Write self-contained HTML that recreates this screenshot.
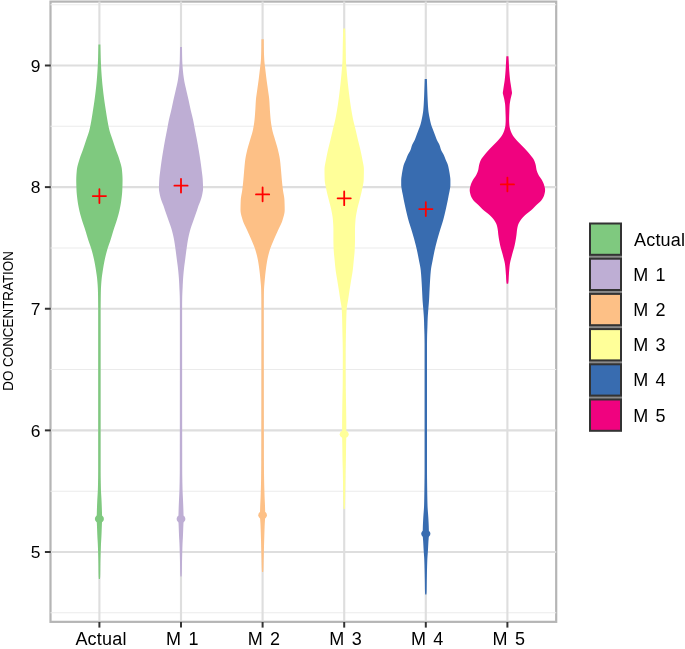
<!DOCTYPE html>
<html><head><meta charset="utf-8"><style>
html,body{margin:0;padding:0;background:#fff;}
svg{display:block;will-change:transform;}
.t{font-family:"Liberation Sans",sans-serif;font-size:18px;fill:#000;}
.a{letter-spacing:0.2px;}
.m{word-spacing:2.4px;}
.yt{font-family:"Liberation Sans",sans-serif;font-size:14px;fill:#000;}
</style></head><body>
<svg width="685" height="649" viewBox="0 0 685 649">
<rect width="685" height="649" fill="#fff"/>
<rect x="50.5" y="1.6" width="505.70" height="620.25" fill="none" stroke="#b5b5b5" stroke-width="2.2"/>
<line x1="50.5" x2="556.2" y1="612.81" y2="612.81" stroke="#ebebeb" stroke-width="1.07"/>
<line x1="50.5" x2="556.2" y1="491.19" y2="491.19" stroke="#ebebeb" stroke-width="1.07"/>
<line x1="50.5" x2="556.2" y1="369.56" y2="369.56" stroke="#ebebeb" stroke-width="1.07"/>
<line x1="50.5" x2="556.2" y1="247.94" y2="247.94" stroke="#ebebeb" stroke-width="1.07"/>
<line x1="50.5" x2="556.2" y1="126.31" y2="126.31" stroke="#ebebeb" stroke-width="1.07"/>
<line x1="50.5" x2="556.2" y1="4.69" y2="4.69" stroke="#ebebeb" stroke-width="1.07"/>
<line x1="50.5" x2="556.2" y1="552.00" y2="552.00" stroke="#dedede" stroke-width="2.13"/>
<line x1="50.5" x2="556.2" y1="430.38" y2="430.38" stroke="#dedede" stroke-width="2.13"/>
<line x1="50.5" x2="556.2" y1="308.75" y2="308.75" stroke="#dedede" stroke-width="2.13"/>
<line x1="50.5" x2="556.2" y1="187.12" y2="187.12" stroke="#dedede" stroke-width="2.13"/>
<line x1="50.5" x2="556.2" y1="65.50" y2="65.50" stroke="#dedede" stroke-width="2.13"/>
<line x1="99.4" x2="99.4" y1="1.6" y2="621.85" stroke="#dedede" stroke-width="2.13"/>
<line x1="181.0" x2="181.0" y1="1.6" y2="621.85" stroke="#dedede" stroke-width="2.13"/>
<line x1="262.6" x2="262.6" y1="1.6" y2="621.85" stroke="#dedede" stroke-width="2.13"/>
<line x1="344.2" x2="344.2" y1="1.6" y2="621.85" stroke="#dedede" stroke-width="2.13"/>
<line x1="425.8" x2="425.8" y1="1.6" y2="621.85" stroke="#dedede" stroke-width="2.13"/>
<line x1="507.4" x2="507.4" y1="1.6" y2="621.85" stroke="#dedede" stroke-width="2.13"/>
<path d="M100.40,44.6 100.42,45.6 100.43,46.6 100.45,47.6 100.47,48.6 100.49,49.6 100.51,50.6 100.54,51.6 100.56,52.6 100.59,53.6 100.62,54.6 100.65,55.6 100.68,56.6 100.71,57.6 100.75,58.6 100.78,59.6 100.82,60.6 100.86,61.6 100.90,62.6 100.94,63.6 100.98,64.6 101.03,65.6 101.08,66.6 101.13,67.6 101.18,68.6 101.24,69.6 101.31,70.6 101.37,71.6 101.44,72.6 101.51,73.6 101.58,74.6 101.65,75.6 101.73,76.6 101.81,77.6 101.89,78.6 101.97,79.6 102.05,80.6 102.14,81.6 102.23,82.6 102.32,83.6 102.42,84.6 102.52,85.6 102.63,86.6 102.74,87.6 102.85,88.6 102.96,89.6 103.07,90.6 103.18,91.6 103.30,92.6 103.42,93.6 103.54,94.6 103.67,95.6 103.80,96.6 103.93,97.6 104.06,98.6 104.20,99.6 104.33,100.6 104.47,101.6 104.62,102.6 104.77,103.6 104.92,104.6 105.07,105.6 105.22,106.6 105.38,107.6 105.53,108.6 105.69,109.6 105.84,110.6 106.00,111.6 106.15,112.6 106.30,113.6 106.46,114.6 106.62,115.6 106.78,116.6 106.94,117.6 107.11,118.6 107.28,119.6 107.46,120.6 107.63,121.6 107.81,122.6 108.00,123.6 108.19,124.6 108.38,125.6 108.58,126.6 108.79,127.6 109.02,128.6 109.25,129.6 109.50,130.6 109.78,131.6 110.08,132.6 110.40,133.6 110.74,134.6 111.08,135.6 111.43,136.6 111.78,137.6 112.13,138.6 112.47,139.6 112.80,140.6 113.13,141.6 113.46,142.6 113.79,143.6 114.12,144.6 114.45,145.6 114.79,146.6 115.13,147.6 115.47,148.6 115.81,149.6 116.16,150.6 116.53,151.6 116.91,152.6 117.29,153.6 117.67,154.6 118.05,155.6 118.41,156.6 118.76,157.6 119.08,158.6 119.38,159.6 119.69,160.6 119.99,161.6 120.30,162.6 120.60,163.6 120.88,164.6 121.14,165.6 121.38,166.6 121.60,167.6 121.77,168.6 121.91,169.6 122.01,170.6 122.10,171.6 122.19,172.6 122.27,173.6 122.34,174.6 122.41,175.6 122.46,176.6 122.50,177.6 122.53,178.6 122.55,179.6 122.55,180.6 122.54,181.6 122.53,182.6 122.51,183.6 122.49,184.6 122.46,185.6 122.43,186.6 122.39,187.6 122.35,188.6 122.32,189.6 122.27,190.6 122.22,191.6 122.15,192.6 122.06,193.6 121.97,194.6 121.87,195.6 121.76,196.6 121.64,197.6 121.52,198.6 121.40,199.6 121.27,200.6 121.14,201.6 120.99,202.6 120.83,203.6 120.66,204.6 120.48,205.6 120.29,206.6 120.09,207.6 119.89,208.6 119.68,209.6 119.47,210.6 119.24,211.6 118.99,212.6 118.74,213.6 118.47,214.6 118.19,215.6 117.90,216.6 117.61,217.6 117.32,218.6 117.02,219.6 116.72,220.6 116.40,221.6 116.07,222.6 115.73,223.6 115.39,224.6 115.04,225.6 114.70,226.6 114.36,227.6 114.03,228.6 113.71,229.6 113.40,230.6 113.09,231.6 112.79,232.6 112.49,233.6 112.20,234.6 111.90,235.6 111.60,236.6 111.30,237.6 110.99,238.6 110.68,239.6 110.36,240.6 110.02,241.6 109.68,242.6 109.33,243.6 108.97,244.6 108.62,245.6 108.28,246.6 107.94,247.6 107.62,248.6 107.32,249.6 107.03,250.6 106.75,251.6 106.48,252.6 106.21,253.6 105.95,254.6 105.70,255.6 105.46,256.6 105.23,257.6 105.00,258.6 104.78,259.6 104.58,260.6 104.37,261.6 104.18,262.6 103.99,263.6 103.80,264.6 103.62,265.6 103.45,266.6 103.28,267.6 103.12,268.6 102.96,269.6 102.81,270.6 102.65,271.6 102.50,272.6 102.35,273.6 102.20,274.6 102.06,275.6 101.92,276.6 101.80,277.6 101.69,278.6 101.59,279.6 101.50,280.6 101.41,281.6 101.33,282.6 101.26,283.6 101.18,284.6 101.12,285.6 101.06,286.6 101.00,287.6 100.95,288.6 100.91,289.6 100.88,290.6 100.85,291.6 100.82,292.6 100.80,293.6 100.78,294.6 100.76,295.6 100.74,296.6 100.72,297.6 100.71,298.6 100.69,299.6 100.68,300.6 100.67,301.6 100.65,302.6 100.64,303.6 100.63,304.6 100.62,305.6 100.61,306.6 100.61,307.6 100.60,308.6 100.60,309.6 100.60,310.6 100.60,311.6 100.60,312.6 100.60,313.6 100.60,314.6 100.60,315.6 100.60,316.6 100.60,317.6 100.60,318.6 100.60,319.6 100.60,320.6 100.60,321.6 100.60,322.6 100.60,323.6 100.60,324.6 100.60,325.6 100.60,326.6 100.60,327.6 100.60,328.6 100.60,329.6 100.60,330.6 100.60,331.6 100.60,332.6 100.60,333.6 100.60,334.6 100.60,335.6 100.60,336.6 100.60,337.6 100.60,338.6 100.60,339.6 100.60,340.6 100.60,341.6 100.60,342.6 100.60,343.6 100.60,344.6 100.60,345.6 100.60,346.6 100.60,347.6 100.60,348.6 100.60,349.6 100.60,350.6 100.60,351.6 100.60,352.6 100.60,353.6 100.60,354.6 100.60,355.6 100.60,356.6 100.60,357.6 100.60,358.6 100.60,359.6 100.60,360.6 100.60,361.6 100.60,362.6 100.60,363.6 100.60,364.6 100.60,365.6 100.60,366.6 100.60,367.6 100.60,368.6 100.60,369.6 100.60,370.6 100.60,371.6 100.60,372.6 100.60,373.6 100.60,374.6 100.60,375.6 100.60,376.6 100.60,377.6 100.60,378.6 100.60,379.6 100.60,380.6 100.60,381.6 100.60,382.6 100.60,383.6 100.60,384.6 100.60,385.6 100.60,386.6 100.60,387.6 100.60,388.6 100.60,389.6 100.60,390.6 100.60,391.6 100.60,392.6 100.60,393.6 100.60,394.6 100.60,395.6 100.60,396.6 100.60,397.6 100.60,398.6 100.60,399.6 100.60,400.6 100.60,401.6 100.60,402.6 100.60,403.6 100.60,404.6 100.60,405.6 100.60,406.6 100.60,407.6 100.60,408.6 100.60,409.6 100.60,410.6 100.60,411.6 100.60,412.6 100.60,413.6 100.60,414.6 100.60,415.6 100.60,416.6 100.60,417.6 100.60,418.6 100.60,419.6 100.60,420.6 100.60,421.6 100.60,422.6 100.60,423.6 100.60,424.6 100.60,425.6 100.60,426.6 100.60,427.6 100.60,428.6 100.60,429.6 100.60,430.6 100.60,431.6 100.60,432.6 100.60,433.6 100.60,434.6 100.60,435.6 100.60,436.6 100.60,437.6 100.60,438.6 100.60,439.6 100.60,440.6 100.60,441.6 100.60,442.6 100.60,443.6 100.60,444.6 100.60,445.6 100.60,446.6 100.60,447.6 100.60,448.6 100.60,449.6 100.60,450.6 100.60,451.6 100.60,452.6 100.60,453.6 100.60,454.6 100.60,455.6 100.60,456.6 100.60,457.6 100.60,458.6 100.60,459.6 100.60,460.6 100.60,461.6 100.60,462.6 100.60,463.6 100.60,464.6 100.60,465.6 100.60,466.6 100.60,467.6 100.60,468.6 100.60,469.6 100.60,470.6 100.60,471.6 100.61,472.6 100.62,473.6 100.62,474.6 100.64,475.6 100.65,476.6 100.66,477.6 100.68,478.6 100.70,479.6 100.72,480.6 100.74,481.6 100.76,482.6 100.78,483.6 100.80,484.6 100.83,485.6 100.85,486.6 100.88,487.6 100.90,488.6 100.93,489.6 100.97,490.6 101.02,491.6 101.08,492.6 101.13,493.6 101.19,494.6 101.25,495.6 101.32,496.6 101.37,497.6 101.43,498.6 101.48,499.6 101.53,500.6 101.57,501.6 101.62,502.6 101.66,503.6 101.70,504.6 101.74,505.6 101.78,506.6 101.82,507.6 101.86,508.6 101.89,509.6 101.92,510.6 101.95,511.6 101.98,512.6 102.01,513.6 102.04,514.6 102.07,515.6 102.08,516.6 102.10,517.6 102.10,518.6 102.09,519.6 102.07,520.6 102.04,521.6 102.00,522.6 101.95,523.6 101.90,524.6 101.86,525.6 101.82,526.6 101.78,527.6 101.74,528.6 101.70,529.6 101.67,530.6 101.63,531.6 101.59,532.6 101.55,533.6 101.51,534.6 101.46,535.6 101.42,536.6 101.37,537.6 101.31,538.6 101.25,539.6 101.19,540.6 101.13,541.6 101.07,542.6 101.02,543.6 100.97,544.6 100.93,545.6 100.89,546.6 100.85,547.6 100.81,548.6 100.78,549.6 100.74,550.6 100.70,551.6 100.67,552.6 100.64,553.6 100.61,554.6 100.57,555.6 100.55,556.6 100.52,557.6 100.49,558.6 100.47,559.6 100.44,560.6 100.42,561.6 100.40,562.6 100.38,563.6 100.37,564.6 100.35,565.6 100.34,566.6 100.33,567.6 100.32,568.6 100.31,569.6 100.30,570.6 100.29,571.6 100.27,572.6 100.26,573.6 100.24,574.6 100.21,575.6 100.18,576.6 100.11,577.6 100.03,578.6 100.00,579.0 98.80,579.0 98.77,578.6 98.69,577.6 98.62,576.6 98.59,575.6 98.56,574.6 98.54,573.6 98.53,572.6 98.51,571.6 98.50,570.6 98.49,569.6 98.48,568.6 98.47,567.6 98.46,566.6 98.45,565.6 98.43,564.6 98.42,563.6 98.40,562.6 98.38,561.6 98.36,560.6 98.33,559.6 98.31,558.6 98.28,557.6 98.25,556.6 98.23,555.6 98.19,554.6 98.16,553.6 98.13,552.6 98.10,551.6 98.06,550.6 98.02,549.6 97.99,548.6 97.95,547.6 97.91,546.6 97.87,545.6 97.83,544.6 97.78,543.6 97.73,542.6 97.67,541.6 97.61,540.6 97.55,539.6 97.49,538.6 97.43,537.6 97.38,536.6 97.34,535.6 97.29,534.6 97.25,533.6 97.21,532.6 97.17,531.6 97.13,530.6 97.10,529.6 97.06,528.6 97.02,527.6 96.98,526.6 96.94,525.6 96.90,524.6 96.85,523.6 96.80,522.6 96.76,521.6 96.73,520.6 96.71,519.6 96.70,518.6 96.70,517.6 96.72,516.6 96.73,515.6 96.76,514.6 96.79,513.6 96.82,512.6 96.85,511.6 96.88,510.6 96.91,509.6 96.94,508.6 96.98,507.6 97.02,506.6 97.06,505.6 97.10,504.6 97.14,503.6 97.18,502.6 97.23,501.6 97.27,500.6 97.32,499.6 97.37,498.6 97.43,497.6 97.48,496.6 97.55,495.6 97.61,494.6 97.67,493.6 97.72,492.6 97.78,491.6 97.83,490.6 97.87,489.6 97.90,488.6 97.92,487.6 97.95,486.6 97.97,485.6 98.00,484.6 98.02,483.6 98.04,482.6 98.06,481.6 98.08,480.6 98.10,479.6 98.12,478.6 98.14,477.6 98.15,476.6 98.16,475.6 98.18,474.6 98.18,473.6 98.19,472.6 98.20,471.6 98.20,470.6 98.20,469.6 98.20,468.6 98.20,467.6 98.20,466.6 98.20,465.6 98.20,464.6 98.20,463.6 98.20,462.6 98.20,461.6 98.20,460.6 98.20,459.6 98.20,458.6 98.20,457.6 98.20,456.6 98.20,455.6 98.20,454.6 98.20,453.6 98.20,452.6 98.20,451.6 98.20,450.6 98.20,449.6 98.20,448.6 98.20,447.6 98.20,446.6 98.20,445.6 98.20,444.6 98.20,443.6 98.20,442.6 98.20,441.6 98.20,440.6 98.20,439.6 98.20,438.6 98.20,437.6 98.20,436.6 98.20,435.6 98.20,434.6 98.20,433.6 98.20,432.6 98.20,431.6 98.20,430.6 98.20,429.6 98.20,428.6 98.20,427.6 98.20,426.6 98.20,425.6 98.20,424.6 98.20,423.6 98.20,422.6 98.20,421.6 98.20,420.6 98.20,419.6 98.20,418.6 98.20,417.6 98.20,416.6 98.20,415.6 98.20,414.6 98.20,413.6 98.20,412.6 98.20,411.6 98.20,410.6 98.20,409.6 98.20,408.6 98.20,407.6 98.20,406.6 98.20,405.6 98.20,404.6 98.20,403.6 98.20,402.6 98.20,401.6 98.20,400.6 98.20,399.6 98.20,398.6 98.20,397.6 98.20,396.6 98.20,395.6 98.20,394.6 98.20,393.6 98.20,392.6 98.20,391.6 98.20,390.6 98.20,389.6 98.20,388.6 98.20,387.6 98.20,386.6 98.20,385.6 98.20,384.6 98.20,383.6 98.20,382.6 98.20,381.6 98.20,380.6 98.20,379.6 98.20,378.6 98.20,377.6 98.20,376.6 98.20,375.6 98.20,374.6 98.20,373.6 98.20,372.6 98.20,371.6 98.20,370.6 98.20,369.6 98.20,368.6 98.20,367.6 98.20,366.6 98.20,365.6 98.20,364.6 98.20,363.6 98.20,362.6 98.20,361.6 98.20,360.6 98.20,359.6 98.20,358.6 98.20,357.6 98.20,356.6 98.20,355.6 98.20,354.6 98.20,353.6 98.20,352.6 98.20,351.6 98.20,350.6 98.20,349.6 98.20,348.6 98.20,347.6 98.20,346.6 98.20,345.6 98.20,344.6 98.20,343.6 98.20,342.6 98.20,341.6 98.20,340.6 98.20,339.6 98.20,338.6 98.20,337.6 98.20,336.6 98.20,335.6 98.20,334.6 98.20,333.6 98.20,332.6 98.20,331.6 98.20,330.6 98.20,329.6 98.20,328.6 98.20,327.6 98.20,326.6 98.20,325.6 98.20,324.6 98.20,323.6 98.20,322.6 98.20,321.6 98.20,320.6 98.20,319.6 98.20,318.6 98.20,317.6 98.20,316.6 98.20,315.6 98.20,314.6 98.20,313.6 98.20,312.6 98.20,311.6 98.20,310.6 98.20,309.6 98.20,308.6 98.19,307.6 98.19,306.6 98.18,305.6 98.17,304.6 98.16,303.6 98.15,302.6 98.13,301.6 98.12,300.6 98.11,299.6 98.09,298.6 98.08,297.6 98.06,296.6 98.04,295.6 98.02,294.6 98.00,293.6 97.98,292.6 97.95,291.6 97.92,290.6 97.89,289.6 97.85,288.6 97.80,287.6 97.74,286.6 97.68,285.6 97.62,284.6 97.54,283.6 97.47,282.6 97.39,281.6 97.30,280.6 97.21,279.6 97.11,278.6 97.00,277.6 96.88,276.6 96.74,275.6 96.60,274.6 96.45,273.6 96.30,272.6 96.15,271.6 95.99,270.6 95.84,269.6 95.68,268.6 95.52,267.6 95.35,266.6 95.18,265.6 95.00,264.6 94.81,263.6 94.62,262.6 94.43,261.6 94.22,260.6 94.02,259.6 93.80,258.6 93.57,257.6 93.34,256.6 93.10,255.6 92.85,254.6 92.59,253.6 92.32,252.6 92.05,251.6 91.77,250.6 91.48,249.6 91.18,248.6 90.86,247.6 90.52,246.6 90.18,245.6 89.83,244.6 89.47,243.6 89.12,242.6 88.78,241.6 88.44,240.6 88.12,239.6 87.81,238.6 87.50,237.6 87.20,236.6 86.90,235.6 86.60,234.6 86.31,233.6 86.01,232.6 85.71,231.6 85.40,230.6 85.09,229.6 84.77,228.6 84.44,227.6 84.10,226.6 83.76,225.6 83.41,224.6 83.07,223.6 82.73,222.6 82.40,221.6 82.08,220.6 81.78,219.6 81.48,218.6 81.19,217.6 80.90,216.6 80.61,215.6 80.33,214.6 80.06,213.6 79.81,212.6 79.56,211.6 79.33,210.6 79.12,209.6 78.91,208.6 78.71,207.6 78.51,206.6 78.32,205.6 78.14,204.6 77.97,203.6 77.81,202.6 77.66,201.6 77.53,200.6 77.40,199.6 77.28,198.6 77.16,197.6 77.04,196.6 76.93,195.6 76.83,194.6 76.74,193.6 76.65,192.6 76.58,191.6 76.53,190.6 76.48,189.6 76.45,188.6 76.41,187.6 76.37,186.6 76.34,185.6 76.31,184.6 76.29,183.6 76.27,182.6 76.26,181.6 76.25,180.6 76.25,179.6 76.27,178.6 76.30,177.6 76.34,176.6 76.39,175.6 76.46,174.6 76.53,173.6 76.61,172.6 76.70,171.6 76.79,170.6 76.89,169.6 77.03,168.6 77.20,167.6 77.42,166.6 77.66,165.6 77.92,164.6 78.20,163.6 78.50,162.6 78.81,161.6 79.11,160.6 79.42,159.6 79.72,158.6 80.04,157.6 80.39,156.6 80.75,155.6 81.13,154.6 81.51,153.6 81.89,152.6 82.27,151.6 82.64,150.6 82.99,149.6 83.33,148.6 83.67,147.6 84.01,146.6 84.35,145.6 84.68,144.6 85.01,143.6 85.34,142.6 85.67,141.6 86.00,140.6 86.33,139.6 86.67,138.6 87.02,137.6 87.37,136.6 87.72,135.6 88.06,134.6 88.40,133.6 88.72,132.6 89.02,131.6 89.30,130.6 89.55,129.6 89.78,128.6 90.01,127.6 90.22,126.6 90.42,125.6 90.61,124.6 90.80,123.6 90.99,122.6 91.17,121.6 91.34,120.6 91.52,119.6 91.69,118.6 91.86,117.6 92.02,116.6 92.18,115.6 92.34,114.6 92.50,113.6 92.65,112.6 92.80,111.6 92.96,110.6 93.11,109.6 93.27,108.6 93.42,107.6 93.58,106.6 93.73,105.6 93.88,104.6 94.03,103.6 94.18,102.6 94.33,101.6 94.47,100.6 94.60,99.6 94.74,98.6 94.87,97.6 95.00,96.6 95.13,95.6 95.26,94.6 95.38,93.6 95.50,92.6 95.62,91.6 95.73,90.6 95.84,89.6 95.95,88.6 96.06,87.6 96.17,86.6 96.28,85.6 96.38,84.6 96.48,83.6 96.57,82.6 96.66,81.6 96.75,80.6 96.83,79.6 96.91,78.6 96.99,77.6 97.07,76.6 97.15,75.6 97.22,74.6 97.29,73.6 97.36,72.6 97.43,71.6 97.49,70.6 97.56,69.6 97.62,68.6 97.67,67.6 97.72,66.6 97.77,65.6 97.82,64.6 97.86,63.6 97.90,62.6 97.94,61.6 97.98,60.6 98.02,59.6 98.05,58.6 98.09,57.6 98.12,56.6 98.15,55.6 98.18,54.6 98.21,53.6 98.24,52.6 98.26,51.6 98.29,50.6 98.31,49.6 98.33,48.6 98.35,47.6 98.37,46.6 98.38,45.6 98.40,44.6Z" fill="#7fc97f"/>
<path d="M182.00,47.0 182.01,48.0 182.02,49.0 182.03,50.0 182.04,51.0 182.05,52.0 182.06,53.0 182.08,54.0 182.09,55.0 182.11,56.0 182.13,57.0 182.15,58.0 182.17,59.0 182.20,60.0 182.23,61.0 182.28,62.0 182.33,63.0 182.39,64.0 182.45,65.0 182.53,66.0 182.60,67.0 182.68,68.0 182.77,69.0 182.85,70.0 182.94,71.0 183.04,72.0 183.15,73.0 183.26,74.0 183.38,75.0 183.51,76.0 183.65,77.0 183.80,78.0 183.94,79.0 184.10,80.0 184.27,81.0 184.45,82.0 184.66,83.0 184.87,84.0 185.09,85.0 185.32,86.0 185.56,87.0 185.79,88.0 186.02,89.0 186.25,90.0 186.47,91.0 186.70,92.0 186.93,93.0 187.17,94.0 187.40,95.0 187.63,96.0 187.87,97.0 188.10,98.0 188.33,99.0 188.55,100.0 188.77,101.0 188.99,102.0 189.20,103.0 189.41,104.0 189.62,105.0 189.83,106.0 190.04,107.0 190.26,108.0 190.48,109.0 190.70,110.0 190.93,111.0 191.17,112.0 191.42,113.0 191.67,114.0 191.92,115.0 192.17,116.0 192.41,117.0 192.65,118.0 192.88,119.0 193.10,120.0 193.31,121.0 193.51,122.0 193.70,123.0 193.88,124.0 194.07,125.0 194.25,126.0 194.43,127.0 194.62,128.0 194.80,129.0 195.00,130.0 195.19,131.0 195.39,132.0 195.59,133.0 195.79,134.0 195.98,135.0 196.18,136.0 196.38,137.0 196.57,138.0 196.76,139.0 196.95,140.0 197.13,141.0 197.31,142.0 197.49,143.0 197.67,144.0 197.85,145.0 198.02,146.0 198.19,147.0 198.36,148.0 198.53,149.0 198.70,150.0 198.87,151.0 199.03,152.0 199.20,153.0 199.36,154.0 199.53,155.0 199.69,156.0 199.84,157.0 200.00,158.0 200.15,159.0 200.30,160.0 200.45,161.0 200.59,162.0 200.73,163.0 200.87,164.0 201.01,165.0 201.14,166.0 201.27,167.0 201.40,168.0 201.53,169.0 201.65,170.0 201.77,171.0 201.90,172.0 202.03,173.0 202.16,174.0 202.29,175.0 202.41,176.0 202.51,177.0 202.61,178.0 202.69,179.0 202.75,180.0 202.80,181.0 202.85,182.0 202.90,183.0 202.94,184.0 202.97,185.0 203.01,186.0 203.03,187.0 203.04,188.0 203.05,189.0 203.00,190.0 202.86,191.0 202.68,192.0 202.50,193.0 202.32,194.0 202.11,195.0 201.88,196.0 201.63,197.0 201.36,198.0 201.05,199.0 200.72,200.0 200.36,201.0 200.00,202.0 199.61,203.0 199.20,204.0 198.78,205.0 198.40,206.0 198.06,207.0 197.74,208.0 197.42,209.0 197.10,210.0 196.76,211.0 196.41,212.0 196.06,213.0 195.70,214.0 195.35,215.0 195.00,216.0 194.65,217.0 194.30,218.0 193.95,219.0 193.60,220.0 193.25,221.0 192.89,222.0 192.53,223.0 192.17,224.0 191.81,225.0 191.46,226.0 191.12,227.0 190.79,228.0 190.49,229.0 190.20,230.0 189.93,231.0 189.67,232.0 189.41,233.0 189.17,234.0 188.93,235.0 188.71,236.0 188.49,237.0 188.28,238.0 188.09,239.0 187.90,240.0 187.72,241.0 187.56,242.0 187.40,243.0 187.24,244.0 187.10,245.0 186.95,246.0 186.81,247.0 186.68,248.0 186.54,249.0 186.40,250.0 186.26,251.0 186.13,252.0 186.00,253.0 185.87,254.0 185.74,255.0 185.61,256.0 185.48,257.0 185.36,258.0 185.23,259.0 185.10,260.0 184.97,261.0 184.84,262.0 184.70,263.0 184.57,264.0 184.43,265.0 184.30,266.0 184.18,267.0 184.06,268.0 183.95,269.0 183.85,270.0 183.74,271.0 183.64,272.0 183.55,273.0 183.46,274.0 183.37,275.0 183.29,276.0 183.21,277.0 183.13,278.0 183.07,279.0 183.00,280.0 182.94,281.0 182.89,282.0 182.84,283.0 182.78,284.0 182.73,285.0 182.69,286.0 182.64,287.0 182.59,288.0 182.54,289.0 182.49,290.0 182.44,291.0 182.39,292.0 182.34,293.0 182.29,294.0 182.26,295.0 182.22,296.0 182.20,297.0 182.18,298.0 182.16,299.0 182.15,300.0 182.13,301.0 182.12,302.0 182.11,303.0 182.10,304.0 182.10,305.0 182.10,306.0 182.10,307.0 182.10,308.0 182.10,309.0 182.10,310.0 182.10,311.0 182.10,312.0 182.10,313.0 182.10,314.0 182.10,315.0 182.10,316.0 182.10,317.0 182.10,318.0 182.10,319.0 182.10,320.0 182.10,321.0 182.10,322.0 182.10,323.0 182.10,324.0 182.10,325.0 182.10,326.0 182.10,327.0 182.10,328.0 182.10,329.0 182.10,330.0 182.10,331.0 182.10,332.0 182.10,333.0 182.10,334.0 182.10,335.0 182.10,336.0 182.10,337.0 182.10,338.0 182.10,339.0 182.10,340.0 182.10,341.0 182.10,342.0 182.10,343.0 182.10,344.0 182.10,345.0 182.10,346.0 182.10,347.0 182.10,348.0 182.10,349.0 182.10,350.0 182.10,351.0 182.10,352.0 182.11,353.0 182.11,354.0 182.11,355.0 182.11,356.0 182.11,357.0 182.11,358.0 182.11,359.0 182.11,360.0 182.11,361.0 182.11,362.0 182.11,363.0 182.11,364.0 182.11,365.0 182.11,366.0 182.11,367.0 182.11,368.0 182.11,369.0 182.11,370.0 182.11,371.0 182.11,372.0 182.11,373.0 182.11,374.0 182.11,375.0 182.11,376.0 182.11,377.0 182.11,378.0 182.11,379.0 182.11,380.0 182.11,381.0 182.12,382.0 182.12,383.0 182.12,384.0 182.12,385.0 182.12,386.0 182.12,387.0 182.12,388.0 182.12,389.0 182.12,390.0 182.12,391.0 182.12,392.0 182.12,393.0 182.12,394.0 182.12,395.0 182.12,396.0 182.12,397.0 182.12,398.0 182.12,399.0 182.13,400.0 182.13,401.0 182.13,402.0 182.13,403.0 182.13,404.0 182.13,405.0 182.13,406.0 182.13,407.0 182.13,408.0 182.13,409.0 182.13,410.0 182.13,411.0 182.13,412.0 182.13,413.0 182.14,414.0 182.14,415.0 182.14,416.0 182.14,417.0 182.14,418.0 182.14,419.0 182.14,420.0 182.14,421.0 182.14,422.0 182.14,423.0 182.14,424.0 182.14,425.0 182.15,426.0 182.15,427.0 182.15,428.0 182.15,429.0 182.15,430.0 182.15,431.0 182.15,432.0 182.15,433.0 182.15,434.0 182.15,435.0 182.16,436.0 182.16,437.0 182.16,438.0 182.16,439.0 182.16,440.0 182.16,441.0 182.16,442.0 182.16,443.0 182.16,444.0 182.17,445.0 182.17,446.0 182.17,447.0 182.17,448.0 182.17,449.0 182.17,450.0 182.17,451.0 182.17,452.0 182.18,453.0 182.18,454.0 182.18,455.0 182.18,456.0 182.18,457.0 182.18,458.0 182.18,459.0 182.19,460.0 182.19,461.0 182.19,462.0 182.19,463.0 182.19,464.0 182.19,465.0 182.19,466.0 182.20,467.0 182.20,468.0 182.20,469.0 182.20,470.0 182.20,471.0 182.21,472.0 182.21,473.0 182.22,474.0 182.23,475.0 182.25,476.0 182.26,477.0 182.28,478.0 182.29,479.0 182.31,480.0 182.33,481.0 182.35,482.0 182.37,483.0 182.39,484.0 182.42,485.0 182.44,486.0 182.46,487.0 182.49,488.0 182.51,489.0 182.54,490.0 182.58,491.0 182.62,492.0 182.67,493.0 182.71,494.0 182.76,495.0 182.81,496.0 182.86,497.0 182.91,498.0 182.96,499.0 183.00,500.0 183.04,501.0 183.09,502.0 183.13,503.0 183.17,504.0 183.22,505.0 183.26,506.0 183.30,507.0 183.34,508.0 183.37,509.0 183.40,510.0 183.43,511.0 183.46,512.0 183.49,513.0 183.52,514.0 183.54,515.0 183.57,516.0 183.58,517.0 183.60,518.0 183.60,519.0 183.59,520.0 183.57,521.0 183.53,522.0 183.49,523.0 183.44,524.0 183.39,525.0 183.34,526.0 183.30,527.0 183.26,528.0 183.22,529.0 183.19,530.0 183.15,531.0 183.11,532.0 183.07,533.0 183.03,534.0 182.99,535.0 182.95,536.0 182.90,537.0 182.85,538.0 182.79,539.0 182.72,540.0 182.66,541.0 182.60,542.0 182.54,543.0 182.50,544.0 182.46,545.0 182.43,546.0 182.39,547.0 182.36,548.0 182.33,549.0 182.30,550.0 182.27,551.0 182.24,552.0 182.22,553.0 182.19,554.0 182.17,555.0 182.14,556.0 182.12,557.0 182.10,558.0 182.08,559.0 182.05,560.0 182.03,561.0 182.01,562.0 181.99,563.0 181.97,564.0 181.96,565.0 181.95,566.0 181.93,567.0 181.92,568.0 181.91,569.0 181.89,570.0 181.88,571.0 181.86,572.0 181.83,573.0 181.80,574.0 181.74,575.0 181.65,576.0 181.60,576.5 180.40,576.5 180.35,576.0 180.26,575.0 180.20,574.0 180.17,573.0 180.14,572.0 180.12,571.0 180.11,570.0 180.09,569.0 180.08,568.0 180.07,567.0 180.05,566.0 180.04,565.0 180.03,564.0 180.01,563.0 179.99,562.0 179.97,561.0 179.95,560.0 179.92,559.0 179.90,558.0 179.88,557.0 179.86,556.0 179.83,555.0 179.81,554.0 179.78,553.0 179.76,552.0 179.73,551.0 179.70,550.0 179.67,549.0 179.64,548.0 179.61,547.0 179.57,546.0 179.54,545.0 179.50,544.0 179.46,543.0 179.40,542.0 179.34,541.0 179.28,540.0 179.21,539.0 179.15,538.0 179.10,537.0 179.05,536.0 179.01,535.0 178.97,534.0 178.93,533.0 178.89,532.0 178.85,531.0 178.81,530.0 178.78,529.0 178.74,528.0 178.70,527.0 178.66,526.0 178.61,525.0 178.56,524.0 178.51,523.0 178.47,522.0 178.43,521.0 178.41,520.0 178.40,519.0 178.40,518.0 178.42,517.0 178.43,516.0 178.46,515.0 178.48,514.0 178.51,513.0 178.54,512.0 178.57,511.0 178.60,510.0 178.63,509.0 178.66,508.0 178.70,507.0 178.74,506.0 178.78,505.0 178.83,504.0 178.87,503.0 178.91,502.0 178.96,501.0 179.00,500.0 179.04,499.0 179.09,498.0 179.14,497.0 179.19,496.0 179.24,495.0 179.29,494.0 179.33,493.0 179.38,492.0 179.42,491.0 179.46,490.0 179.49,489.0 179.51,488.0 179.54,487.0 179.56,486.0 179.58,485.0 179.61,484.0 179.63,483.0 179.65,482.0 179.67,481.0 179.69,480.0 179.71,479.0 179.72,478.0 179.74,477.0 179.75,476.0 179.77,475.0 179.78,474.0 179.79,473.0 179.79,472.0 179.80,471.0 179.80,470.0 179.80,469.0 179.80,468.0 179.80,467.0 179.81,466.0 179.81,465.0 179.81,464.0 179.81,463.0 179.81,462.0 179.81,461.0 179.81,460.0 179.82,459.0 179.82,458.0 179.82,457.0 179.82,456.0 179.82,455.0 179.82,454.0 179.82,453.0 179.83,452.0 179.83,451.0 179.83,450.0 179.83,449.0 179.83,448.0 179.83,447.0 179.83,446.0 179.83,445.0 179.84,444.0 179.84,443.0 179.84,442.0 179.84,441.0 179.84,440.0 179.84,439.0 179.84,438.0 179.84,437.0 179.84,436.0 179.85,435.0 179.85,434.0 179.85,433.0 179.85,432.0 179.85,431.0 179.85,430.0 179.85,429.0 179.85,428.0 179.85,427.0 179.85,426.0 179.86,425.0 179.86,424.0 179.86,423.0 179.86,422.0 179.86,421.0 179.86,420.0 179.86,419.0 179.86,418.0 179.86,417.0 179.86,416.0 179.86,415.0 179.86,414.0 179.87,413.0 179.87,412.0 179.87,411.0 179.87,410.0 179.87,409.0 179.87,408.0 179.87,407.0 179.87,406.0 179.87,405.0 179.87,404.0 179.87,403.0 179.87,402.0 179.87,401.0 179.87,400.0 179.88,399.0 179.88,398.0 179.88,397.0 179.88,396.0 179.88,395.0 179.88,394.0 179.88,393.0 179.88,392.0 179.88,391.0 179.88,390.0 179.88,389.0 179.88,388.0 179.88,387.0 179.88,386.0 179.88,385.0 179.88,384.0 179.88,383.0 179.88,382.0 179.89,381.0 179.89,380.0 179.89,379.0 179.89,378.0 179.89,377.0 179.89,376.0 179.89,375.0 179.89,374.0 179.89,373.0 179.89,372.0 179.89,371.0 179.89,370.0 179.89,369.0 179.89,368.0 179.89,367.0 179.89,366.0 179.89,365.0 179.89,364.0 179.89,363.0 179.89,362.0 179.89,361.0 179.89,360.0 179.89,359.0 179.89,358.0 179.89,357.0 179.89,356.0 179.89,355.0 179.89,354.0 179.89,353.0 179.90,352.0 179.90,351.0 179.90,350.0 179.90,349.0 179.90,348.0 179.90,347.0 179.90,346.0 179.90,345.0 179.90,344.0 179.90,343.0 179.90,342.0 179.90,341.0 179.90,340.0 179.90,339.0 179.90,338.0 179.90,337.0 179.90,336.0 179.90,335.0 179.90,334.0 179.90,333.0 179.90,332.0 179.90,331.0 179.90,330.0 179.90,329.0 179.90,328.0 179.90,327.0 179.90,326.0 179.90,325.0 179.90,324.0 179.90,323.0 179.90,322.0 179.90,321.0 179.90,320.0 179.90,319.0 179.90,318.0 179.90,317.0 179.90,316.0 179.90,315.0 179.90,314.0 179.90,313.0 179.90,312.0 179.90,311.0 179.90,310.0 179.90,309.0 179.90,308.0 179.90,307.0 179.90,306.0 179.90,305.0 179.90,304.0 179.89,303.0 179.88,302.0 179.87,301.0 179.85,300.0 179.84,299.0 179.82,298.0 179.80,297.0 179.78,296.0 179.74,295.0 179.71,294.0 179.66,293.0 179.61,292.0 179.56,291.0 179.51,290.0 179.46,289.0 179.41,288.0 179.36,287.0 179.31,286.0 179.27,285.0 179.22,284.0 179.16,283.0 179.11,282.0 179.06,281.0 179.00,280.0 178.93,279.0 178.87,278.0 178.79,277.0 178.71,276.0 178.63,275.0 178.54,274.0 178.45,273.0 178.36,272.0 178.26,271.0 178.15,270.0 178.05,269.0 177.94,268.0 177.82,267.0 177.70,266.0 177.57,265.0 177.43,264.0 177.30,263.0 177.16,262.0 177.03,261.0 176.90,260.0 176.77,259.0 176.64,258.0 176.52,257.0 176.39,256.0 176.26,255.0 176.13,254.0 176.00,253.0 175.87,252.0 175.74,251.0 175.60,250.0 175.46,249.0 175.32,248.0 175.19,247.0 175.05,246.0 174.90,245.0 174.76,244.0 174.60,243.0 174.44,242.0 174.28,241.0 174.10,240.0 173.91,239.0 173.72,238.0 173.51,237.0 173.29,236.0 173.07,235.0 172.83,234.0 172.59,233.0 172.33,232.0 172.07,231.0 171.80,230.0 171.51,229.0 171.21,228.0 170.88,227.0 170.54,226.0 170.19,225.0 169.83,224.0 169.47,223.0 169.11,222.0 168.75,221.0 168.40,220.0 168.05,219.0 167.70,218.0 167.35,217.0 167.00,216.0 166.65,215.0 166.30,214.0 165.94,213.0 165.59,212.0 165.24,211.0 164.90,210.0 164.58,209.0 164.26,208.0 163.94,207.0 163.60,206.0 163.22,205.0 162.80,204.0 162.39,203.0 162.00,202.0 161.64,201.0 161.28,200.0 160.95,199.0 160.64,198.0 160.37,197.0 160.12,196.0 159.89,195.0 159.68,194.0 159.50,193.0 159.32,192.0 159.14,191.0 159.00,190.0 158.95,189.0 158.96,188.0 158.97,187.0 158.99,186.0 159.03,185.0 159.06,184.0 159.10,183.0 159.15,182.0 159.20,181.0 159.25,180.0 159.31,179.0 159.39,178.0 159.49,177.0 159.59,176.0 159.71,175.0 159.84,174.0 159.97,173.0 160.10,172.0 160.23,171.0 160.35,170.0 160.47,169.0 160.60,168.0 160.73,167.0 160.86,166.0 160.99,165.0 161.13,164.0 161.27,163.0 161.41,162.0 161.55,161.0 161.70,160.0 161.85,159.0 162.00,158.0 162.16,157.0 162.31,156.0 162.47,155.0 162.64,154.0 162.80,153.0 162.97,152.0 163.13,151.0 163.30,150.0 163.47,149.0 163.64,148.0 163.81,147.0 163.98,146.0 164.15,145.0 164.33,144.0 164.51,143.0 164.69,142.0 164.87,141.0 165.05,140.0 165.24,139.0 165.43,138.0 165.62,137.0 165.82,136.0 166.02,135.0 166.21,134.0 166.41,133.0 166.61,132.0 166.81,131.0 167.00,130.0 167.20,129.0 167.38,128.0 167.57,127.0 167.75,126.0 167.93,125.0 168.12,124.0 168.30,123.0 168.49,122.0 168.69,121.0 168.90,120.0 169.12,119.0 169.35,118.0 169.59,117.0 169.83,116.0 170.08,115.0 170.33,114.0 170.58,113.0 170.83,112.0 171.07,111.0 171.30,110.0 171.52,109.0 171.74,108.0 171.96,107.0 172.17,106.0 172.38,105.0 172.59,104.0 172.80,103.0 173.01,102.0 173.23,101.0 173.45,100.0 173.67,99.0 173.90,98.0 174.13,97.0 174.37,96.0 174.60,95.0 174.83,94.0 175.07,93.0 175.30,92.0 175.53,91.0 175.75,90.0 175.98,89.0 176.21,88.0 176.44,87.0 176.68,86.0 176.91,85.0 177.13,84.0 177.34,83.0 177.55,82.0 177.73,81.0 177.90,80.0 178.06,79.0 178.20,78.0 178.35,77.0 178.49,76.0 178.62,75.0 178.74,74.0 178.85,73.0 178.96,72.0 179.06,71.0 179.15,70.0 179.23,69.0 179.32,68.0 179.40,67.0 179.47,66.0 179.55,65.0 179.61,64.0 179.67,63.0 179.72,62.0 179.77,61.0 179.80,60.0 179.83,59.0 179.85,58.0 179.87,57.0 179.89,56.0 179.91,55.0 179.92,54.0 179.94,53.0 179.95,52.0 179.96,51.0 179.97,50.0 179.98,49.0 179.99,48.0 180.00,47.0Z" fill="#beaed4"/>
<path d="M263.80,39.2 263.80,40.2 263.80,41.2 263.81,42.2 263.82,43.2 263.83,44.2 263.84,45.2 263.85,46.2 263.86,47.2 263.87,48.2 263.89,49.2 263.90,50.2 263.92,51.2 263.95,52.2 263.98,53.2 264.01,54.2 264.05,55.2 264.10,56.2 264.15,57.2 264.20,58.2 264.25,59.2 264.31,60.2 264.38,61.2 264.47,62.2 264.57,63.2 264.68,64.2 264.80,65.2 264.93,66.2 265.06,67.2 265.18,68.2 265.31,69.2 265.42,70.2 265.54,71.2 265.65,72.2 265.77,73.2 265.89,74.2 266.01,75.2 266.13,76.2 266.25,77.2 266.37,78.2 266.50,79.2 266.63,80.2 266.76,81.2 266.90,82.2 267.04,83.2 267.18,84.2 267.32,85.2 267.47,86.2 267.61,87.2 267.75,88.2 267.89,89.2 268.03,90.2 268.17,91.2 268.31,92.2 268.46,93.2 268.60,94.2 268.74,95.2 268.88,96.2 269.01,97.2 269.13,98.2 269.23,99.2 269.32,100.2 269.39,101.2 269.46,102.2 269.52,103.2 269.57,104.2 269.63,105.2 269.68,106.2 269.73,107.2 269.79,108.2 269.85,109.2 269.91,110.2 269.98,111.2 270.05,112.2 270.12,113.2 270.19,114.2 270.27,115.2 270.35,116.2 270.43,117.2 270.52,118.2 270.62,119.2 270.72,120.2 270.84,121.2 270.96,122.2 271.10,123.2 271.25,124.2 271.41,125.2 271.58,126.2 271.76,127.2 271.94,128.2 272.14,129.2 272.34,130.2 272.57,131.2 272.82,132.2 273.09,133.2 273.38,134.2 273.69,135.2 274.00,136.2 274.31,137.2 274.62,138.2 274.92,139.2 275.21,140.2 275.50,141.2 275.80,142.2 276.10,143.2 276.40,144.2 276.70,145.2 276.99,146.2 277.27,147.2 277.55,148.2 277.81,149.2 278.05,150.2 278.28,151.2 278.51,152.2 278.74,153.2 278.96,154.2 279.17,155.2 279.37,156.2 279.56,157.2 279.73,158.2 279.89,159.2 280.03,160.2 280.15,161.2 280.27,162.2 280.37,163.2 280.48,164.2 280.57,165.2 280.66,166.2 280.75,167.2 280.84,168.2 280.93,169.2 281.02,170.2 281.11,171.2 281.19,172.2 281.27,173.2 281.36,174.2 281.44,175.2 281.52,176.2 281.60,177.2 281.69,178.2 281.78,179.2 281.87,180.2 281.97,181.2 282.07,182.2 282.17,183.2 282.27,184.2 282.38,185.2 282.49,186.2 282.61,187.2 282.73,188.2 282.85,189.2 282.98,190.2 283.12,191.2 283.29,192.2 283.47,193.2 283.66,194.2 283.84,195.2 284.02,196.2 284.17,197.2 284.30,198.2 284.40,199.2 284.46,200.2 284.50,201.2 284.54,202.2 284.57,203.2 284.61,204.2 284.63,205.2 284.66,206.2 284.68,207.2 284.69,208.2 284.70,209.2 284.70,210.2 284.65,211.2 284.54,212.2 284.38,213.2 284.18,214.2 283.94,215.2 283.67,216.2 283.38,217.2 283.08,218.2 282.78,219.2 282.49,220.2 282.16,221.2 281.79,222.2 281.37,223.2 280.92,224.2 280.45,225.2 279.96,226.2 279.47,227.2 278.99,228.2 278.51,229.2 278.06,230.2 277.61,231.2 277.16,232.2 276.71,233.2 276.25,234.2 275.80,235.2 275.35,236.2 274.90,237.2 274.47,238.2 274.04,239.2 273.62,240.2 273.20,241.2 272.78,242.2 272.35,243.2 271.94,244.2 271.53,245.2 271.13,246.2 270.75,247.2 270.39,248.2 270.05,249.2 269.74,250.2 269.44,251.2 269.15,252.2 268.88,253.2 268.61,254.2 268.35,255.2 268.11,256.2 267.88,257.2 267.66,258.2 267.45,259.2 267.26,260.2 267.08,261.2 266.91,262.2 266.75,263.2 266.59,264.2 266.44,265.2 266.30,266.2 266.16,267.2 266.03,268.2 265.90,269.2 265.78,270.2 265.65,271.2 265.54,272.2 265.42,273.2 265.31,274.2 265.21,275.2 265.11,276.2 265.01,277.2 264.91,278.2 264.82,279.2 264.73,280.2 264.64,281.2 264.55,282.2 264.46,283.2 264.37,284.2 264.29,285.2 264.21,286.2 264.14,287.2 264.08,288.2 264.03,289.2 263.99,290.2 263.96,291.2 263.94,292.2 263.91,293.2 263.89,294.2 263.87,295.2 263.85,296.2 263.83,297.2 263.82,298.2 263.81,299.2 263.80,300.2 263.79,301.2 263.78,302.2 263.78,303.2 263.77,304.2 263.76,305.2 263.76,306.2 263.76,307.2 263.75,308.2 263.75,309.2 263.75,310.2 263.75,311.2 263.75,312.2 263.75,313.2 263.75,314.2 263.75,315.2 263.75,316.2 263.75,317.2 263.75,318.2 263.75,319.2 263.75,320.2 263.75,321.2 263.75,322.2 263.75,323.2 263.75,324.2 263.75,325.2 263.75,326.2 263.75,327.2 263.75,328.2 263.75,329.2 263.75,330.2 263.75,331.2 263.75,332.2 263.75,333.2 263.75,334.2 263.75,335.2 263.75,336.2 263.75,337.2 263.75,338.2 263.75,339.2 263.75,340.2 263.75,341.2 263.76,342.2 263.76,343.2 263.76,344.2 263.76,345.2 263.76,346.2 263.76,347.2 263.76,348.2 263.76,349.2 263.76,350.2 263.76,351.2 263.76,352.2 263.76,353.2 263.76,354.2 263.76,355.2 263.76,356.2 263.76,357.2 263.76,358.2 263.76,359.2 263.76,360.2 263.76,361.2 263.76,362.2 263.76,363.2 263.77,364.2 263.77,365.2 263.77,366.2 263.77,367.2 263.77,368.2 263.77,369.2 263.77,370.2 263.77,371.2 263.77,372.2 263.77,373.2 263.77,374.2 263.77,375.2 263.77,376.2 263.77,377.2 263.78,378.2 263.78,379.2 263.78,380.2 263.78,381.2 263.78,382.2 263.78,383.2 263.78,384.2 263.78,385.2 263.78,386.2 263.78,387.2 263.78,388.2 263.79,389.2 263.79,390.2 263.79,391.2 263.79,392.2 263.79,393.2 263.79,394.2 263.79,395.2 263.79,396.2 263.79,397.2 263.79,398.2 263.80,399.2 263.80,400.2 263.80,401.2 263.80,402.2 263.80,403.2 263.80,404.2 263.80,405.2 263.80,406.2 263.81,407.2 263.81,408.2 263.81,409.2 263.81,410.2 263.81,411.2 263.81,412.2 263.81,413.2 263.81,414.2 263.82,415.2 263.82,416.2 263.82,417.2 263.82,418.2 263.82,419.2 263.82,420.2 263.83,421.2 263.83,422.2 263.83,423.2 263.83,424.2 263.83,425.2 263.83,426.2 263.83,427.2 263.84,428.2 263.84,429.2 263.84,430.2 263.84,431.2 263.84,432.2 263.85,433.2 263.85,434.2 263.85,435.2 263.85,436.2 263.85,437.2 263.85,438.2 263.86,439.2 263.86,440.2 263.86,441.2 263.86,442.2 263.86,443.2 263.87,444.2 263.87,445.2 263.87,446.2 263.87,447.2 263.87,448.2 263.88,449.2 263.88,450.2 263.88,451.2 263.88,452.2 263.88,453.2 263.89,454.2 263.89,455.2 263.89,456.2 263.89,457.2 263.90,458.2 263.90,459.2 263.90,460.2 263.90,461.2 263.91,462.2 263.91,463.2 263.92,464.2 263.93,465.2 263.94,466.2 263.95,467.2 263.96,468.2 263.97,469.2 263.98,470.2 263.99,471.2 264.01,472.2 264.02,473.2 264.04,474.2 264.05,475.2 264.06,476.2 264.08,477.2 264.10,478.2 264.11,479.2 264.13,480.2 264.15,481.2 264.17,482.2 264.19,483.2 264.21,484.2 264.24,485.2 264.26,486.2 264.29,487.2 264.32,488.2 264.35,489.2 264.38,490.2 264.41,491.2 264.44,492.2 264.47,493.2 264.50,494.2 264.54,495.2 264.57,496.2 264.61,497.2 264.65,498.2 264.69,499.2 264.74,500.2 264.79,501.2 264.84,502.2 264.89,503.2 264.93,504.2 264.97,505.2 265.01,506.2 265.04,507.2 265.07,508.2 265.10,509.2 265.13,510.2 265.15,511.2 265.17,512.2 265.19,513.2 265.20,514.2 265.20,515.2 265.18,516.2 265.15,517.2 265.10,518.2 265.04,519.2 264.98,520.2 264.91,521.2 264.84,522.2 264.78,523.2 264.73,524.2 264.68,525.2 264.64,526.2 264.61,527.2 264.57,528.2 264.53,529.2 264.50,530.2 264.47,531.2 264.43,532.2 264.40,533.2 264.37,534.2 264.34,535.2 264.31,536.2 264.28,537.2 264.25,538.2 264.22,539.2 264.19,540.2 264.16,541.2 264.13,542.2 264.10,543.2 264.07,544.2 264.04,545.2 264.02,546.2 263.99,547.2 263.96,548.2 263.93,549.2 263.91,550.2 263.88,551.2 263.85,552.2 263.83,553.2 263.80,554.2 263.77,555.2 263.75,556.2 263.72,557.2 263.69,558.2 263.67,559.2 263.64,560.2 263.62,561.2 263.59,562.2 263.57,563.2 263.55,564.2 263.53,565.2 263.50,566.2 263.48,567.2 263.45,568.2 263.41,569.2 263.36,570.2 263.28,571.2 263.20,572.0 262.00,572.0 261.92,571.2 261.84,570.2 261.79,569.2 261.75,568.2 261.72,567.2 261.70,566.2 261.67,565.2 261.65,564.2 261.63,563.2 261.61,562.2 261.58,561.2 261.56,560.2 261.53,559.2 261.51,558.2 261.48,557.2 261.45,556.2 261.43,555.2 261.40,554.2 261.37,553.2 261.35,552.2 261.32,551.2 261.29,550.2 261.27,549.2 261.24,548.2 261.21,547.2 261.18,546.2 261.16,545.2 261.13,544.2 261.10,543.2 261.07,542.2 261.04,541.2 261.01,540.2 260.98,539.2 260.95,538.2 260.92,537.2 260.89,536.2 260.86,535.2 260.83,534.2 260.80,533.2 260.77,532.2 260.73,531.2 260.70,530.2 260.67,529.2 260.63,528.2 260.59,527.2 260.56,526.2 260.52,525.2 260.47,524.2 260.42,523.2 260.36,522.2 260.29,521.2 260.22,520.2 260.16,519.2 260.10,518.2 260.05,517.2 260.02,516.2 260.00,515.2 260.00,514.2 260.01,513.2 260.03,512.2 260.05,511.2 260.07,510.2 260.10,509.2 260.13,508.2 260.16,507.2 260.19,506.2 260.23,505.2 260.27,504.2 260.31,503.2 260.36,502.2 260.41,501.2 260.46,500.2 260.51,499.2 260.55,498.2 260.59,497.2 260.63,496.2 260.66,495.2 260.70,494.2 260.73,493.2 260.76,492.2 260.79,491.2 260.82,490.2 260.85,489.2 260.88,488.2 260.91,487.2 260.94,486.2 260.96,485.2 260.99,484.2 261.01,483.2 261.03,482.2 261.05,481.2 261.07,480.2 261.09,479.2 261.10,478.2 261.12,477.2 261.14,476.2 261.15,475.2 261.16,474.2 261.18,473.2 261.19,472.2 261.21,471.2 261.22,470.2 261.23,469.2 261.24,468.2 261.25,467.2 261.26,466.2 261.27,465.2 261.28,464.2 261.29,463.2 261.29,462.2 261.30,461.2 261.30,460.2 261.30,459.2 261.30,458.2 261.31,457.2 261.31,456.2 261.31,455.2 261.31,454.2 261.32,453.2 261.32,452.2 261.32,451.2 261.32,450.2 261.32,449.2 261.33,448.2 261.33,447.2 261.33,446.2 261.33,445.2 261.33,444.2 261.34,443.2 261.34,442.2 261.34,441.2 261.34,440.2 261.34,439.2 261.35,438.2 261.35,437.2 261.35,436.2 261.35,435.2 261.35,434.2 261.35,433.2 261.36,432.2 261.36,431.2 261.36,430.2 261.36,429.2 261.36,428.2 261.37,427.2 261.37,426.2 261.37,425.2 261.37,424.2 261.37,423.2 261.37,422.2 261.37,421.2 261.38,420.2 261.38,419.2 261.38,418.2 261.38,417.2 261.38,416.2 261.38,415.2 261.39,414.2 261.39,413.2 261.39,412.2 261.39,411.2 261.39,410.2 261.39,409.2 261.39,408.2 261.39,407.2 261.40,406.2 261.40,405.2 261.40,404.2 261.40,403.2 261.40,402.2 261.40,401.2 261.40,400.2 261.40,399.2 261.41,398.2 261.41,397.2 261.41,396.2 261.41,395.2 261.41,394.2 261.41,393.2 261.41,392.2 261.41,391.2 261.41,390.2 261.41,389.2 261.42,388.2 261.42,387.2 261.42,386.2 261.42,385.2 261.42,384.2 261.42,383.2 261.42,382.2 261.42,381.2 261.42,380.2 261.42,379.2 261.42,378.2 261.43,377.2 261.43,376.2 261.43,375.2 261.43,374.2 261.43,373.2 261.43,372.2 261.43,371.2 261.43,370.2 261.43,369.2 261.43,368.2 261.43,367.2 261.43,366.2 261.43,365.2 261.43,364.2 261.44,363.2 261.44,362.2 261.44,361.2 261.44,360.2 261.44,359.2 261.44,358.2 261.44,357.2 261.44,356.2 261.44,355.2 261.44,354.2 261.44,353.2 261.44,352.2 261.44,351.2 261.44,350.2 261.44,349.2 261.44,348.2 261.44,347.2 261.44,346.2 261.44,345.2 261.44,344.2 261.44,343.2 261.44,342.2 261.45,341.2 261.45,340.2 261.45,339.2 261.45,338.2 261.45,337.2 261.45,336.2 261.45,335.2 261.45,334.2 261.45,333.2 261.45,332.2 261.45,331.2 261.45,330.2 261.45,329.2 261.45,328.2 261.45,327.2 261.45,326.2 261.45,325.2 261.45,324.2 261.45,323.2 261.45,322.2 261.45,321.2 261.45,320.2 261.45,319.2 261.45,318.2 261.45,317.2 261.45,316.2 261.45,315.2 261.45,314.2 261.45,313.2 261.45,312.2 261.45,311.2 261.45,310.2 261.45,309.2 261.45,308.2 261.44,307.2 261.44,306.2 261.44,305.2 261.43,304.2 261.42,303.2 261.42,302.2 261.41,301.2 261.40,300.2 261.39,299.2 261.38,298.2 261.37,297.2 261.35,296.2 261.33,295.2 261.31,294.2 261.29,293.2 261.26,292.2 261.24,291.2 261.21,290.2 261.17,289.2 261.12,288.2 261.06,287.2 260.99,286.2 260.91,285.2 260.83,284.2 260.74,283.2 260.65,282.2 260.56,281.2 260.47,280.2 260.38,279.2 260.29,278.2 260.19,277.2 260.09,276.2 259.99,275.2 259.89,274.2 259.78,273.2 259.66,272.2 259.55,271.2 259.42,270.2 259.30,269.2 259.17,268.2 259.04,267.2 258.90,266.2 258.76,265.2 258.61,264.2 258.45,263.2 258.29,262.2 258.12,261.2 257.94,260.2 257.75,259.2 257.54,258.2 257.32,257.2 257.09,256.2 256.85,255.2 256.59,254.2 256.32,253.2 256.05,252.2 255.76,251.2 255.46,250.2 255.15,249.2 254.81,248.2 254.45,247.2 254.07,246.2 253.67,245.2 253.26,244.2 252.85,243.2 252.42,242.2 252.00,241.2 251.58,240.2 251.16,239.2 250.73,238.2 250.30,237.2 249.85,236.2 249.40,235.2 248.95,234.2 248.49,233.2 248.04,232.2 247.59,231.2 247.14,230.2 246.69,229.2 246.21,228.2 245.73,227.2 245.24,226.2 244.75,225.2 244.28,224.2 243.83,223.2 243.41,222.2 243.04,221.2 242.71,220.2 242.42,219.2 242.12,218.2 241.82,217.2 241.53,216.2 241.26,215.2 241.02,214.2 240.82,213.2 240.66,212.2 240.55,211.2 240.50,210.2 240.50,209.2 240.51,208.2 240.52,207.2 240.54,206.2 240.57,205.2 240.59,204.2 240.63,203.2 240.66,202.2 240.70,201.2 240.74,200.2 240.80,199.2 240.90,198.2 241.03,197.2 241.18,196.2 241.36,195.2 241.54,194.2 241.73,193.2 241.91,192.2 242.08,191.2 242.22,190.2 242.35,189.2 242.47,188.2 242.59,187.2 242.71,186.2 242.82,185.2 242.93,184.2 243.03,183.2 243.13,182.2 243.23,181.2 243.33,180.2 243.42,179.2 243.51,178.2 243.60,177.2 243.68,176.2 243.76,175.2 243.84,174.2 243.93,173.2 244.01,172.2 244.09,171.2 244.18,170.2 244.27,169.2 244.36,168.2 244.45,167.2 244.54,166.2 244.63,165.2 244.72,164.2 244.83,163.2 244.93,162.2 245.05,161.2 245.17,160.2 245.31,159.2 245.47,158.2 245.64,157.2 245.83,156.2 246.03,155.2 246.24,154.2 246.46,153.2 246.69,152.2 246.92,151.2 247.15,150.2 247.39,149.2 247.65,148.2 247.93,147.2 248.21,146.2 248.50,145.2 248.80,144.2 249.10,143.2 249.40,142.2 249.70,141.2 249.99,140.2 250.28,139.2 250.58,138.2 250.89,137.2 251.20,136.2 251.51,135.2 251.82,134.2 252.11,133.2 252.38,132.2 252.63,131.2 252.86,130.2 253.06,129.2 253.26,128.2 253.44,127.2 253.62,126.2 253.79,125.2 253.95,124.2 254.10,123.2 254.24,122.2 254.36,121.2 254.48,120.2 254.58,119.2 254.68,118.2 254.77,117.2 254.85,116.2 254.93,115.2 255.01,114.2 255.08,113.2 255.15,112.2 255.22,111.2 255.29,110.2 255.35,109.2 255.41,108.2 255.47,107.2 255.52,106.2 255.57,105.2 255.63,104.2 255.68,103.2 255.74,102.2 255.81,101.2 255.88,100.2 255.97,99.2 256.07,98.2 256.19,97.2 256.32,96.2 256.46,95.2 256.60,94.2 256.74,93.2 256.89,92.2 257.03,91.2 257.17,90.2 257.31,89.2 257.45,88.2 257.59,87.2 257.73,86.2 257.88,85.2 258.02,84.2 258.16,83.2 258.30,82.2 258.44,81.2 258.57,80.2 258.70,79.2 258.83,78.2 258.95,77.2 259.07,76.2 259.19,75.2 259.31,74.2 259.43,73.2 259.55,72.2 259.66,71.2 259.78,70.2 259.89,69.2 260.02,68.2 260.14,67.2 260.27,66.2 260.40,65.2 260.52,64.2 260.63,63.2 260.73,62.2 260.82,61.2 260.89,60.2 260.95,59.2 261.00,58.2 261.05,57.2 261.10,56.2 261.15,55.2 261.19,54.2 261.22,53.2 261.25,52.2 261.28,51.2 261.30,50.2 261.31,49.2 261.33,48.2 261.34,47.2 261.35,46.2 261.36,45.2 261.37,44.2 261.38,43.2 261.39,42.2 261.40,41.2 261.40,40.2 261.40,39.2Z" fill="#fdc086"/>
<path d="M345.20,28.6 345.23,29.6 345.26,30.6 345.29,31.6 345.31,32.6 345.34,33.6 345.37,34.6 345.39,35.6 345.42,36.6 345.44,37.6 345.47,38.6 345.49,39.6 345.51,40.6 345.54,41.6 345.56,42.6 345.58,43.6 345.60,44.6 345.61,45.6 345.63,46.6 345.65,47.6 345.67,48.6 345.69,49.6 345.71,50.6 345.73,51.6 345.75,52.6 345.76,53.6 345.78,54.6 345.80,55.6 345.82,56.6 345.84,57.6 345.86,58.6 345.89,59.6 345.92,60.6 345.97,61.6 346.02,62.6 346.09,63.6 346.16,64.6 346.24,65.6 346.32,66.6 346.40,67.6 346.49,68.6 346.57,69.6 346.65,70.6 346.73,71.6 346.81,72.6 346.90,73.6 346.99,74.6 347.08,75.6 347.17,76.6 347.27,77.6 347.36,78.6 347.46,79.6 347.56,80.6 347.66,81.6 347.77,82.6 347.87,83.6 347.98,84.6 348.09,85.6 348.21,86.6 348.32,87.6 348.44,88.6 348.55,89.6 348.67,90.6 348.79,91.6 348.91,92.6 349.03,93.6 349.15,94.6 349.28,95.6 349.40,96.6 349.53,97.6 349.66,98.6 349.80,99.6 349.93,100.6 350.07,101.6 350.21,102.6 350.36,103.6 350.50,104.6 350.65,105.6 350.81,106.6 350.96,107.6 351.12,108.6 351.28,109.6 351.45,110.6 351.62,111.6 351.79,112.6 351.97,113.6 352.15,114.6 352.33,115.6 352.52,116.6 352.71,117.6 352.91,118.6 353.12,119.6 353.33,120.6 353.56,121.6 353.79,122.6 354.04,123.6 354.29,124.6 354.55,125.6 354.80,126.6 355.06,127.6 355.31,128.6 355.55,129.6 355.79,130.6 356.02,131.6 356.25,132.6 356.48,133.6 356.71,134.6 356.94,135.6 357.16,136.6 357.39,137.6 357.62,138.6 357.86,139.6 358.09,140.6 358.34,141.6 358.59,142.6 358.84,143.6 359.09,144.6 359.34,145.6 359.59,146.6 359.84,147.6 360.08,148.6 360.31,149.6 360.53,150.6 360.76,151.6 360.97,152.6 361.19,153.6 361.40,154.6 361.61,155.6 361.81,156.6 362.01,157.6 362.20,158.6 362.38,159.6 362.56,160.6 362.75,161.6 362.96,162.6 363.16,163.6 363.35,164.6 363.53,165.6 363.68,166.6 363.80,167.6 363.88,168.6 363.90,169.6 363.90,170.6 363.89,171.6 363.88,172.6 363.87,173.6 363.85,174.6 363.83,175.6 363.80,176.6 363.78,177.6 363.75,178.6 363.71,179.6 363.67,180.6 363.59,181.6 363.47,182.6 363.31,183.6 363.13,184.6 362.93,185.6 362.72,186.6 362.51,187.6 362.29,188.6 362.08,189.6 361.88,190.6 361.66,191.6 361.44,192.6 361.20,193.6 360.96,194.6 360.71,195.6 360.45,196.6 360.20,197.6 359.95,198.6 359.70,199.6 359.45,200.6 359.19,201.6 358.93,202.6 358.66,203.6 358.39,204.6 358.13,205.6 357.87,206.6 357.63,207.6 357.39,208.6 357.18,209.6 356.98,210.6 356.79,211.6 356.59,212.6 356.40,213.6 356.22,214.6 356.05,215.6 355.89,216.6 355.75,217.6 355.63,218.6 355.53,219.6 355.45,220.6 355.38,221.6 355.31,222.6 355.24,223.6 355.18,224.6 355.12,225.6 355.08,226.6 355.04,227.6 355.01,228.6 355.00,229.6 355.00,230.6 355.00,231.6 355.00,232.6 355.00,233.6 355.00,234.6 355.00,235.6 355.00,236.6 355.00,237.6 355.00,238.6 355.00,239.6 355.00,240.6 354.99,241.6 354.97,242.6 354.95,243.6 354.92,244.6 354.89,245.6 354.85,246.6 354.81,247.6 354.76,248.6 354.72,249.6 354.67,250.6 354.61,251.6 354.53,252.6 354.45,253.6 354.35,254.6 354.25,255.6 354.15,256.6 354.04,257.6 353.94,258.6 353.84,259.6 353.74,260.6 353.65,261.6 353.56,262.6 353.47,263.6 353.37,264.6 353.28,265.6 353.18,266.6 353.07,267.6 352.96,268.6 352.85,269.6 352.72,270.6 352.59,271.6 352.44,272.6 352.28,273.6 352.11,274.6 351.94,275.6 351.77,276.6 351.60,277.6 351.43,278.6 351.26,279.6 351.10,280.6 350.94,281.6 350.78,282.6 350.62,283.6 350.46,284.6 350.30,285.6 350.14,286.6 349.98,287.6 349.82,288.6 349.66,289.6 349.51,290.6 349.36,291.6 349.20,292.6 349.06,293.6 348.91,294.6 348.76,295.6 348.61,296.6 348.46,297.6 348.31,298.6 348.16,299.6 348.00,300.6 347.83,301.6 347.65,302.6 347.47,303.6 347.29,304.6 347.12,305.6 346.96,306.6 346.83,307.6 346.73,308.6 346.66,309.6 346.60,310.6 346.54,311.6 346.50,312.6 346.45,313.6 346.41,314.6 346.38,315.6 346.34,316.6 346.31,317.6 346.28,318.6 346.26,319.6 346.23,320.6 346.21,321.6 346.19,322.6 346.17,323.6 346.15,324.6 346.13,325.6 346.11,326.6 346.09,327.6 346.06,328.6 346.04,329.6 346.02,330.6 346.00,331.6 345.98,332.6 345.95,333.6 345.93,334.6 345.91,335.6 345.89,336.6 345.86,337.6 345.84,338.6 345.81,339.6 345.79,340.6 345.76,341.6 345.74,342.6 345.72,343.6 345.71,344.6 345.69,345.6 345.68,346.6 345.66,347.6 345.65,348.6 345.64,349.6 345.63,350.6 345.62,351.6 345.61,352.6 345.60,353.6 345.60,354.6 345.60,355.6 345.60,356.6 345.60,357.6 345.60,358.6 345.60,359.6 345.60,360.6 345.61,361.6 345.61,362.6 345.61,363.6 345.61,364.6 345.61,365.6 345.62,366.6 345.62,367.6 345.62,368.6 345.63,369.6 345.63,370.6 345.63,371.6 345.64,372.6 345.64,373.6 345.65,374.6 345.65,375.6 345.66,376.6 345.66,377.6 345.67,378.6 345.67,379.6 345.68,380.6 345.68,381.6 345.69,382.6 345.69,383.6 345.70,384.6 345.71,385.6 345.72,386.6 345.73,387.6 345.75,388.6 345.77,389.6 345.79,390.6 345.81,391.6 345.84,392.6 345.86,393.6 345.88,394.6 345.91,395.6 345.93,396.6 345.95,397.6 345.97,398.6 345.99,399.6 346.01,400.6 346.03,401.6 346.04,402.6 346.06,403.6 346.07,404.6 346.09,405.6 346.10,406.6 346.12,407.6 346.13,408.6 346.15,409.6 346.16,410.6 346.17,411.6 346.18,412.6 346.20,413.6 346.21,414.6 346.22,415.6 346.24,416.6 346.25,417.6 346.26,418.6 346.27,419.6 346.28,420.6 346.29,421.6 346.29,422.6 346.30,423.6 346.30,424.6 346.30,425.6 346.30,426.6 346.30,427.6 346.30,428.6 346.30,429.6 346.30,430.6 346.30,431.6 346.30,432.6 346.30,433.6 346.30,434.6 346.29,435.6 346.28,436.6 346.26,437.6 346.24,438.6 346.22,439.6 346.19,440.6 346.17,441.6 346.15,442.6 346.13,443.6 346.11,444.6 346.09,445.6 346.08,446.6 346.06,447.6 346.05,448.6 346.04,449.6 346.03,450.6 346.02,451.6 346.00,452.6 345.99,453.6 345.98,454.6 345.97,455.6 345.95,456.6 345.94,457.6 345.92,458.6 345.91,459.6 345.89,460.6 345.87,461.6 345.84,462.6 345.81,463.6 345.78,464.6 345.75,465.6 345.72,466.6 345.69,467.6 345.66,468.6 345.63,469.6 345.61,470.6 345.59,471.6 345.57,472.6 345.55,473.6 345.53,474.6 345.51,475.6 345.50,476.6 345.48,477.6 345.46,478.6 345.45,479.6 345.43,480.6 345.42,481.6 345.40,482.6 345.39,483.6 345.37,484.6 345.36,485.6 345.34,486.6 345.33,487.6 345.32,488.6 345.30,489.6 345.29,490.6 345.27,491.6 345.25,492.6 345.24,493.6 345.22,494.6 345.20,495.6 345.19,496.6 345.17,497.6 345.16,498.6 345.14,499.6 345.12,500.6 345.11,501.6 345.09,502.6 345.07,503.6 345.04,504.6 345.01,505.6 344.97,506.6 344.91,507.6 344.83,508.6 344.80,509.0 343.60,509.0 343.57,508.6 343.49,507.6 343.43,506.6 343.39,505.6 343.36,504.6 343.33,503.6 343.31,502.6 343.29,501.6 343.28,500.6 343.26,499.6 343.24,498.6 343.23,497.6 343.21,496.6 343.20,495.6 343.18,494.6 343.16,493.6 343.15,492.6 343.13,491.6 343.11,490.6 343.10,489.6 343.08,488.6 343.07,487.6 343.06,486.6 343.04,485.6 343.03,484.6 343.01,483.6 343.00,482.6 342.98,481.6 342.97,480.6 342.95,479.6 342.94,478.6 342.92,477.6 342.90,476.6 342.89,475.6 342.87,474.6 342.85,473.6 342.83,472.6 342.81,471.6 342.79,470.6 342.77,469.6 342.74,468.6 342.71,467.6 342.68,466.6 342.65,465.6 342.62,464.6 342.59,463.6 342.56,462.6 342.53,461.6 342.51,460.6 342.49,459.6 342.48,458.6 342.46,457.6 342.45,456.6 342.43,455.6 342.42,454.6 342.41,453.6 342.40,452.6 342.38,451.6 342.37,450.6 342.36,449.6 342.35,448.6 342.34,447.6 342.32,446.6 342.31,445.6 342.29,444.6 342.27,443.6 342.25,442.6 342.23,441.6 342.21,440.6 342.18,439.6 342.16,438.6 342.14,437.6 342.12,436.6 342.11,435.6 342.10,434.6 342.10,433.6 342.10,432.6 342.10,431.6 342.10,430.6 342.10,429.6 342.10,428.6 342.10,427.6 342.10,426.6 342.10,425.6 342.10,424.6 342.10,423.6 342.11,422.6 342.11,421.6 342.12,420.6 342.13,419.6 342.14,418.6 342.15,417.6 342.16,416.6 342.18,415.6 342.19,414.6 342.20,413.6 342.22,412.6 342.23,411.6 342.24,410.6 342.25,409.6 342.27,408.6 342.28,407.6 342.30,406.6 342.31,405.6 342.33,404.6 342.34,403.6 342.36,402.6 342.37,401.6 342.39,400.6 342.41,399.6 342.43,398.6 342.45,397.6 342.47,396.6 342.49,395.6 342.52,394.6 342.54,393.6 342.56,392.6 342.59,391.6 342.61,390.6 342.63,389.6 342.65,388.6 342.67,387.6 342.68,386.6 342.69,385.6 342.70,384.6 342.71,383.6 342.71,382.6 342.72,381.6 342.72,380.6 342.73,379.6 342.73,378.6 342.74,377.6 342.74,376.6 342.75,375.6 342.75,374.6 342.76,373.6 342.76,372.6 342.77,371.6 342.77,370.6 342.77,369.6 342.78,368.6 342.78,367.6 342.78,366.6 342.79,365.6 342.79,364.6 342.79,363.6 342.79,362.6 342.79,361.6 342.80,360.6 342.80,359.6 342.80,358.6 342.80,357.6 342.80,356.6 342.80,355.6 342.80,354.6 342.80,353.6 342.79,352.6 342.78,351.6 342.77,350.6 342.76,349.6 342.75,348.6 342.74,347.6 342.72,346.6 342.71,345.6 342.69,344.6 342.68,343.6 342.66,342.6 342.64,341.6 342.61,340.6 342.59,339.6 342.56,338.6 342.54,337.6 342.51,336.6 342.49,335.6 342.47,334.6 342.45,333.6 342.42,332.6 342.40,331.6 342.38,330.6 342.36,329.6 342.34,328.6 342.31,327.6 342.29,326.6 342.27,325.6 342.25,324.6 342.23,323.6 342.21,322.6 342.19,321.6 342.17,320.6 342.14,319.6 342.12,318.6 342.09,317.6 342.06,316.6 342.02,315.6 341.99,314.6 341.95,313.6 341.90,312.6 341.86,311.6 341.80,310.6 341.74,309.6 341.67,308.6 341.57,307.6 341.44,306.6 341.28,305.6 341.11,304.6 340.93,303.6 340.75,302.6 340.57,301.6 340.40,300.6 340.24,299.6 340.09,298.6 339.94,297.6 339.79,296.6 339.64,295.6 339.49,294.6 339.34,293.6 339.20,292.6 339.04,291.6 338.89,290.6 338.74,289.6 338.58,288.6 338.42,287.6 338.26,286.6 338.10,285.6 337.94,284.6 337.78,283.6 337.62,282.6 337.46,281.6 337.30,280.6 337.14,279.6 336.97,278.6 336.80,277.6 336.63,276.6 336.46,275.6 336.29,274.6 336.12,273.6 335.96,272.6 335.81,271.6 335.68,270.6 335.55,269.6 335.44,268.6 335.33,267.6 335.22,266.6 335.12,265.6 335.03,264.6 334.93,263.6 334.84,262.6 334.75,261.6 334.66,260.6 334.56,259.6 334.46,258.6 334.36,257.6 334.25,256.6 334.15,255.6 334.05,254.6 333.95,253.6 333.87,252.6 333.79,251.6 333.73,250.6 333.68,249.6 333.64,248.6 333.59,247.6 333.55,246.6 333.51,245.6 333.48,244.6 333.45,243.6 333.43,242.6 333.41,241.6 333.40,240.6 333.40,239.6 333.40,238.6 333.40,237.6 333.40,236.6 333.40,235.6 333.40,234.6 333.40,233.6 333.40,232.6 333.40,231.6 333.40,230.6 333.40,229.6 333.39,228.6 333.36,227.6 333.32,226.6 333.28,225.6 333.22,224.6 333.16,223.6 333.09,222.6 333.02,221.6 332.95,220.6 332.87,219.6 332.77,218.6 332.65,217.6 332.51,216.6 332.35,215.6 332.18,214.6 332.00,213.6 331.81,212.6 331.61,211.6 331.42,210.6 331.22,209.6 331.01,208.6 330.77,207.6 330.53,206.6 330.27,205.6 330.01,204.6 329.74,203.6 329.47,202.6 329.21,201.6 328.95,200.6 328.70,199.6 328.45,198.6 328.20,197.6 327.95,196.6 327.69,195.6 327.44,194.6 327.20,193.6 326.96,192.6 326.74,191.6 326.52,190.6 326.32,189.6 326.11,188.6 325.89,187.6 325.68,186.6 325.47,185.6 325.27,184.6 325.09,183.6 324.93,182.6 324.81,181.6 324.73,180.6 324.69,179.6 324.65,178.6 324.62,177.6 324.60,176.6 324.57,175.6 324.55,174.6 324.53,173.6 324.52,172.6 324.51,171.6 324.50,170.6 324.50,169.6 324.52,168.6 324.60,167.6 324.72,166.6 324.87,165.6 325.05,164.6 325.24,163.6 325.44,162.6 325.65,161.6 325.84,160.6 326.02,159.6 326.20,158.6 326.39,157.6 326.59,156.6 326.79,155.6 327.00,154.6 327.21,153.6 327.43,152.6 327.64,151.6 327.87,150.6 328.09,149.6 328.32,148.6 328.56,147.6 328.81,146.6 329.06,145.6 329.31,144.6 329.56,143.6 329.81,142.6 330.06,141.6 330.31,140.6 330.54,139.6 330.78,138.6 331.01,137.6 331.24,136.6 331.46,135.6 331.69,134.6 331.92,133.6 332.15,132.6 332.38,131.6 332.61,130.6 332.85,129.6 333.09,128.6 333.34,127.6 333.60,126.6 333.85,125.6 334.11,124.6 334.36,123.6 334.61,122.6 334.84,121.6 335.07,120.6 335.28,119.6 335.49,118.6 335.69,117.6 335.88,116.6 336.07,115.6 336.25,114.6 336.43,113.6 336.61,112.6 336.78,111.6 336.95,110.6 337.12,109.6 337.28,108.6 337.44,107.6 337.59,106.6 337.75,105.6 337.90,104.6 338.04,103.6 338.19,102.6 338.33,101.6 338.47,100.6 338.60,99.6 338.74,98.6 338.87,97.6 339.00,96.6 339.12,95.6 339.25,94.6 339.37,93.6 339.49,92.6 339.61,91.6 339.73,90.6 339.85,89.6 339.96,88.6 340.08,87.6 340.19,86.6 340.31,85.6 340.42,84.6 340.53,83.6 340.63,82.6 340.74,81.6 340.84,80.6 340.94,79.6 341.04,78.6 341.13,77.6 341.23,76.6 341.32,75.6 341.41,74.6 341.50,73.6 341.59,72.6 341.67,71.6 341.75,70.6 341.83,69.6 341.91,68.6 342.00,67.6 342.08,66.6 342.16,65.6 342.24,64.6 342.31,63.6 342.38,62.6 342.43,61.6 342.48,60.6 342.51,59.6 342.54,58.6 342.56,57.6 342.58,56.6 342.60,55.6 342.62,54.6 342.64,53.6 342.65,52.6 342.67,51.6 342.69,50.6 342.71,49.6 342.73,48.6 342.75,47.6 342.77,46.6 342.79,45.6 342.80,44.6 342.82,43.6 342.84,42.6 342.86,41.6 342.89,40.6 342.91,39.6 342.93,38.6 342.96,37.6 342.98,36.6 343.01,35.6 343.03,34.6 343.06,33.6 343.09,32.6 343.11,31.6 343.14,30.6 343.17,29.6 343.20,28.6Z" fill="#ffff99"/>
<path d="M426.90,79.0 426.93,80.0 426.96,81.0 426.99,82.0 427.02,83.0 427.05,84.0 427.08,85.0 427.11,86.0 427.15,87.0 427.18,88.0 427.21,89.0 427.25,90.0 427.29,91.0 427.32,92.0 427.36,93.0 427.39,94.0 427.43,95.0 427.47,96.0 427.51,97.0 427.56,98.0 427.60,99.0 427.65,100.0 427.70,101.0 427.75,102.0 427.80,103.0 427.86,104.0 427.92,105.0 427.98,106.0 428.05,107.0 428.13,108.0 428.21,109.0 428.30,110.0 428.41,111.0 428.53,112.0 428.68,113.0 428.84,114.0 429.01,115.0 429.19,116.0 429.39,117.0 429.59,118.0 429.79,119.0 430.00,120.0 430.21,121.0 430.45,122.0 430.69,123.0 430.96,124.0 431.25,125.0 431.57,126.0 431.94,127.0 432.32,128.0 432.72,129.0 433.10,130.0 433.48,131.0 433.86,132.0 434.24,133.0 434.62,134.0 435.00,135.0 435.37,136.0 435.73,137.0 436.10,138.0 436.48,139.0 436.90,140.0 437.39,141.0 437.94,142.0 438.51,143.0 439.05,144.0 439.50,145.0 439.86,146.0 440.16,147.0 440.44,148.0 440.74,149.0 441.10,150.0 441.56,151.0 442.12,152.0 442.71,153.0 443.29,154.0 443.80,155.0 444.24,156.0 444.64,157.0 445.02,158.0 445.40,159.0 445.80,160.0 446.23,161.0 446.70,162.0 447.15,163.0 447.56,164.0 447.90,165.0 448.17,166.0 448.40,167.0 448.61,168.0 448.81,169.0 449.00,170.0 449.19,171.0 449.37,172.0 449.55,173.0 449.71,174.0 449.85,175.0 449.99,176.0 450.14,177.0 450.27,178.0 450.36,179.0 450.40,180.0 450.40,181.0 450.40,182.0 450.40,183.0 450.40,184.0 450.40,185.0 450.36,186.0 450.25,187.0 450.09,188.0 449.92,189.0 449.75,190.0 449.58,191.0 449.38,192.0 449.17,193.0 448.95,194.0 448.75,195.0 448.56,196.0 448.37,197.0 448.18,198.0 448.00,199.0 447.80,200.0 447.60,201.0 447.39,202.0 447.18,203.0 446.96,204.0 446.75,205.0 446.53,206.0 446.32,207.0 446.10,208.0 445.88,209.0 445.65,210.0 445.42,211.0 445.19,212.0 444.95,213.0 444.72,214.0 444.48,215.0 444.24,216.0 443.99,217.0 443.73,218.0 443.47,219.0 443.20,220.0 442.92,221.0 442.62,222.0 442.32,223.0 442.00,224.0 441.68,225.0 441.36,226.0 441.04,227.0 440.72,228.0 440.40,229.0 440.10,230.0 439.80,231.0 439.50,232.0 439.20,233.0 438.91,234.0 438.61,235.0 438.32,236.0 438.03,237.0 437.75,238.0 437.47,239.0 437.20,240.0 436.93,241.0 436.67,242.0 436.41,243.0 436.15,244.0 435.89,245.0 435.64,246.0 435.40,247.0 435.16,248.0 434.93,249.0 434.70,250.0 434.48,251.0 434.27,252.0 434.06,253.0 433.86,254.0 433.66,255.0 433.46,256.0 433.27,257.0 433.08,258.0 432.89,259.0 432.70,260.0 432.51,261.0 432.31,262.0 432.10,263.0 431.90,264.0 431.70,265.0 431.51,266.0 431.33,267.0 431.17,268.0 431.02,269.0 430.90,270.0 430.79,271.0 430.70,272.0 430.61,273.0 430.52,274.0 430.44,275.0 430.37,276.0 430.30,277.0 430.23,278.0 430.17,279.0 430.10,280.0 430.04,281.0 429.98,282.0 429.92,283.0 429.86,284.0 429.81,285.0 429.76,286.0 429.70,287.0 429.65,288.0 429.60,289.0 429.55,290.0 429.50,291.0 429.45,292.0 429.40,293.0 429.36,294.0 429.31,295.0 429.26,296.0 429.22,297.0 429.16,298.0 429.11,299.0 429.05,300.0 428.98,301.0 428.91,302.0 428.83,303.0 428.75,304.0 428.66,305.0 428.58,306.0 428.49,307.0 428.41,308.0 428.33,309.0 428.25,310.0 428.18,311.0 428.10,312.0 428.03,313.0 427.95,314.0 427.88,315.0 427.81,316.0 427.75,317.0 427.70,318.0 427.65,319.0 427.61,320.0 427.58,321.0 427.54,322.0 427.51,323.0 427.49,324.0 427.46,325.0 427.43,326.0 427.40,327.0 427.37,328.0 427.33,329.0 427.29,330.0 427.26,331.0 427.22,332.0 427.19,333.0 427.15,334.0 427.13,335.0 427.11,336.0 427.09,337.0 427.07,338.0 427.06,339.0 427.04,340.0 427.03,341.0 427.02,342.0 427.01,343.0 427.00,344.0 427.00,345.0 427.00,346.0 427.00,347.0 427.00,348.0 427.00,349.0 427.00,350.0 427.00,351.0 427.00,352.0 427.00,353.0 427.00,354.0 427.00,355.0 427.00,356.0 427.00,357.0 427.00,358.0 427.00,359.0 427.00,360.0 427.00,361.0 427.00,362.0 427.00,363.0 427.00,364.0 427.00,365.0 427.00,366.0 427.00,367.0 427.00,368.0 427.00,369.0 427.00,370.0 427.00,371.0 427.00,372.0 427.00,373.0 427.00,374.0 427.00,375.0 427.00,376.0 427.00,377.0 427.00,378.0 427.00,379.0 427.00,380.0 427.00,381.0 427.00,382.0 427.00,383.0 427.00,384.0 427.00,385.0 427.00,386.0 427.00,387.0 427.00,388.0 427.00,389.0 427.00,390.0 427.00,391.0 427.00,392.0 427.00,393.0 427.00,394.0 427.00,395.0 427.00,396.0 427.00,397.0 427.00,398.0 427.00,399.0 427.00,400.0 427.00,401.0 427.00,402.0 427.00,403.0 427.00,404.0 427.00,405.0 427.00,406.0 427.00,407.0 427.00,408.0 427.00,409.0 427.00,410.0 427.00,411.0 427.00,412.0 427.00,413.0 427.00,414.0 427.00,415.0 427.00,416.0 427.00,417.0 427.00,418.0 427.00,419.0 427.00,420.0 427.00,421.0 427.00,422.0 427.00,423.0 427.00,424.0 427.00,425.0 427.00,426.0 427.00,427.0 427.00,428.0 427.00,429.0 427.00,430.0 427.00,431.0 427.00,432.0 427.00,433.0 427.00,434.0 427.00,435.0 427.00,436.0 427.00,437.0 427.00,438.0 427.00,439.0 427.00,440.0 427.00,441.0 427.00,442.0 427.00,443.0 427.00,444.0 427.00,445.0 427.00,446.0 427.00,447.0 427.00,448.0 427.00,449.0 427.00,450.0 427.00,451.0 427.00,452.0 427.00,453.0 427.00,454.0 427.00,455.0 427.00,456.0 427.00,457.0 427.00,458.0 427.00,459.0 427.00,460.0 427.00,461.0 427.00,462.0 427.00,463.0 427.00,464.0 427.00,465.0 427.00,466.0 427.00,467.0 427.00,468.0 427.00,469.0 427.00,470.0 427.00,471.0 427.00,472.0 427.01,473.0 427.01,474.0 427.02,475.0 427.03,476.0 427.03,477.0 427.04,478.0 427.05,479.0 427.07,480.0 427.08,481.0 427.09,482.0 427.10,483.0 427.12,484.0 427.13,485.0 427.14,486.0 427.16,487.0 427.17,488.0 427.19,489.0 427.20,490.0 427.21,491.0 427.23,492.0 427.24,493.0 427.26,494.0 427.27,495.0 427.29,496.0 427.31,497.0 427.33,498.0 427.35,499.0 427.37,500.0 427.39,501.0 427.42,502.0 427.44,503.0 427.47,504.0 427.50,505.0 427.54,506.0 427.58,507.0 427.64,508.0 427.70,509.0 427.77,510.0 427.84,511.0 427.91,512.0 427.99,513.0 428.07,514.0 428.14,515.0 428.21,516.0 428.28,517.0 428.34,518.0 428.40,519.0 428.45,520.0 428.50,521.0 428.56,522.0 428.61,523.0 428.65,524.0 428.70,525.0 428.74,526.0 428.77,527.0 428.80,528.0 428.83,529.0 428.85,530.0 428.87,531.0 428.89,532.0 428.90,533.0 428.90,534.0 428.87,535.0 428.83,536.0 428.77,537.0 428.70,538.0 428.62,539.0 428.54,540.0 428.46,541.0 428.40,542.0 428.34,543.0 428.29,544.0 428.23,545.0 428.18,546.0 428.13,547.0 428.07,548.0 428.02,549.0 427.96,550.0 427.90,551.0 427.84,552.0 427.76,553.0 427.69,554.0 427.61,555.0 427.54,556.0 427.47,557.0 427.40,558.0 427.35,559.0 427.30,560.0 427.26,561.0 427.23,562.0 427.19,563.0 427.16,564.0 427.13,565.0 427.10,566.0 427.08,567.0 427.05,568.0 427.03,569.0 427.00,570.0 426.98,571.0 426.96,572.0 426.94,573.0 426.92,574.0 426.90,575.0 426.88,576.0 426.86,577.0 426.84,578.0 426.82,579.0 426.80,580.0 426.78,581.0 426.77,582.0 426.75,583.0 426.74,584.0 426.73,585.0 426.72,586.0 426.71,587.0 426.69,588.0 426.68,589.0 426.65,590.0 426.63,591.0 426.60,592.0 426.54,593.0 426.44,594.0 426.40,594.4 425.20,594.4 425.16,594.0 425.06,593.0 425.00,592.0 424.97,591.0 424.95,590.0 424.92,589.0 424.91,588.0 424.89,587.0 424.88,586.0 424.87,585.0 424.86,584.0 424.85,583.0 424.83,582.0 424.82,581.0 424.80,580.0 424.78,579.0 424.76,578.0 424.74,577.0 424.72,576.0 424.70,575.0 424.68,574.0 424.66,573.0 424.64,572.0 424.62,571.0 424.60,570.0 424.57,569.0 424.55,568.0 424.52,567.0 424.50,566.0 424.47,565.0 424.44,564.0 424.41,563.0 424.37,562.0 424.34,561.0 424.30,560.0 424.25,559.0 424.20,558.0 424.13,557.0 424.06,556.0 423.99,555.0 423.91,554.0 423.84,553.0 423.76,552.0 423.70,551.0 423.64,550.0 423.58,549.0 423.53,548.0 423.47,547.0 423.42,546.0 423.37,545.0 423.31,544.0 423.26,543.0 423.20,542.0 423.14,541.0 423.06,540.0 422.98,539.0 422.90,538.0 422.83,537.0 422.77,536.0 422.73,535.0 422.70,534.0 422.70,533.0 422.71,532.0 422.73,531.0 422.75,530.0 422.77,529.0 422.80,528.0 422.83,527.0 422.86,526.0 422.90,525.0 422.95,524.0 422.99,523.0 423.04,522.0 423.10,521.0 423.15,520.0 423.20,519.0 423.26,518.0 423.32,517.0 423.39,516.0 423.46,515.0 423.53,514.0 423.61,513.0 423.69,512.0 423.76,511.0 423.83,510.0 423.90,509.0 423.96,508.0 424.02,507.0 424.06,506.0 424.10,505.0 424.13,504.0 424.16,503.0 424.18,502.0 424.21,501.0 424.23,500.0 424.25,499.0 424.27,498.0 424.29,497.0 424.31,496.0 424.33,495.0 424.34,494.0 424.36,493.0 424.37,492.0 424.39,491.0 424.40,490.0 424.41,489.0 424.43,488.0 424.44,487.0 424.46,486.0 424.47,485.0 424.48,484.0 424.50,483.0 424.51,482.0 424.52,481.0 424.53,480.0 424.55,479.0 424.56,478.0 424.57,477.0 424.57,476.0 424.58,475.0 424.59,474.0 424.59,473.0 424.60,472.0 424.60,471.0 424.60,470.0 424.60,469.0 424.60,468.0 424.60,467.0 424.60,466.0 424.60,465.0 424.60,464.0 424.60,463.0 424.60,462.0 424.60,461.0 424.60,460.0 424.60,459.0 424.60,458.0 424.60,457.0 424.60,456.0 424.60,455.0 424.60,454.0 424.60,453.0 424.60,452.0 424.60,451.0 424.60,450.0 424.60,449.0 424.60,448.0 424.60,447.0 424.60,446.0 424.60,445.0 424.60,444.0 424.60,443.0 424.60,442.0 424.60,441.0 424.60,440.0 424.60,439.0 424.60,438.0 424.60,437.0 424.60,436.0 424.60,435.0 424.60,434.0 424.60,433.0 424.60,432.0 424.60,431.0 424.60,430.0 424.60,429.0 424.60,428.0 424.60,427.0 424.60,426.0 424.60,425.0 424.60,424.0 424.60,423.0 424.60,422.0 424.60,421.0 424.60,420.0 424.60,419.0 424.60,418.0 424.60,417.0 424.60,416.0 424.60,415.0 424.60,414.0 424.60,413.0 424.60,412.0 424.60,411.0 424.60,410.0 424.60,409.0 424.60,408.0 424.60,407.0 424.60,406.0 424.60,405.0 424.60,404.0 424.60,403.0 424.60,402.0 424.60,401.0 424.60,400.0 424.60,399.0 424.60,398.0 424.60,397.0 424.60,396.0 424.60,395.0 424.60,394.0 424.60,393.0 424.60,392.0 424.60,391.0 424.60,390.0 424.60,389.0 424.60,388.0 424.60,387.0 424.60,386.0 424.60,385.0 424.60,384.0 424.60,383.0 424.60,382.0 424.60,381.0 424.60,380.0 424.60,379.0 424.60,378.0 424.60,377.0 424.60,376.0 424.60,375.0 424.60,374.0 424.60,373.0 424.60,372.0 424.60,371.0 424.60,370.0 424.60,369.0 424.60,368.0 424.60,367.0 424.60,366.0 424.60,365.0 424.60,364.0 424.60,363.0 424.60,362.0 424.60,361.0 424.60,360.0 424.60,359.0 424.60,358.0 424.60,357.0 424.60,356.0 424.60,355.0 424.60,354.0 424.60,353.0 424.60,352.0 424.60,351.0 424.60,350.0 424.60,349.0 424.60,348.0 424.60,347.0 424.60,346.0 424.60,345.0 424.60,344.0 424.59,343.0 424.58,342.0 424.57,341.0 424.56,340.0 424.54,339.0 424.53,338.0 424.51,337.0 424.49,336.0 424.47,335.0 424.45,334.0 424.41,333.0 424.38,332.0 424.34,331.0 424.31,330.0 424.27,329.0 424.23,328.0 424.20,327.0 424.17,326.0 424.14,325.0 424.11,324.0 424.09,323.0 424.06,322.0 424.02,321.0 423.99,320.0 423.95,319.0 423.90,318.0 423.85,317.0 423.79,316.0 423.72,315.0 423.65,314.0 423.57,313.0 423.50,312.0 423.42,311.0 423.35,310.0 423.27,309.0 423.19,308.0 423.11,307.0 423.02,306.0 422.94,305.0 422.85,304.0 422.77,303.0 422.69,302.0 422.62,301.0 422.55,300.0 422.49,299.0 422.44,298.0 422.38,297.0 422.34,296.0 422.29,295.0 422.24,294.0 422.20,293.0 422.15,292.0 422.10,291.0 422.05,290.0 422.00,289.0 421.95,288.0 421.90,287.0 421.84,286.0 421.79,285.0 421.74,284.0 421.68,283.0 421.62,282.0 421.56,281.0 421.50,280.0 421.43,279.0 421.37,278.0 421.30,277.0 421.23,276.0 421.16,275.0 421.08,274.0 420.99,273.0 420.90,272.0 420.81,271.0 420.70,270.0 420.58,269.0 420.43,268.0 420.27,267.0 420.09,266.0 419.90,265.0 419.70,264.0 419.50,263.0 419.29,262.0 419.09,261.0 418.90,260.0 418.71,259.0 418.52,258.0 418.33,257.0 418.14,256.0 417.94,255.0 417.74,254.0 417.54,253.0 417.33,252.0 417.12,251.0 416.90,250.0 416.67,249.0 416.44,248.0 416.20,247.0 415.96,246.0 415.71,245.0 415.45,244.0 415.19,243.0 414.93,242.0 414.67,241.0 414.40,240.0 414.13,239.0 413.85,238.0 413.57,237.0 413.28,236.0 412.99,235.0 412.69,234.0 412.40,233.0 412.10,232.0 411.80,231.0 411.50,230.0 411.20,229.0 410.88,228.0 410.56,227.0 410.24,226.0 409.92,225.0 409.60,224.0 409.28,223.0 408.98,222.0 408.68,221.0 408.40,220.0 408.13,219.0 407.87,218.0 407.61,217.0 407.36,216.0 407.12,215.0 406.88,214.0 406.65,213.0 406.41,212.0 406.18,211.0 405.95,210.0 405.72,209.0 405.50,208.0 405.28,207.0 405.07,206.0 404.85,205.0 404.64,204.0 404.42,203.0 404.21,202.0 404.00,201.0 403.80,200.0 403.60,199.0 403.42,198.0 403.23,197.0 403.04,196.0 402.85,195.0 402.65,194.0 402.43,193.0 402.22,192.0 402.02,191.0 401.85,190.0 401.68,189.0 401.51,188.0 401.35,187.0 401.24,186.0 401.20,185.0 401.20,184.0 401.20,183.0 401.20,182.0 401.20,181.0 401.20,180.0 401.24,179.0 401.33,178.0 401.46,177.0 401.61,176.0 401.75,175.0 401.89,174.0 402.05,173.0 402.23,172.0 402.41,171.0 402.60,170.0 402.79,169.0 402.99,168.0 403.20,167.0 403.43,166.0 403.70,165.0 404.04,164.0 404.45,163.0 404.90,162.0 405.37,161.0 405.80,160.0 406.20,159.0 406.58,158.0 406.96,157.0 407.36,156.0 407.80,155.0 408.31,154.0 408.89,153.0 409.48,152.0 410.04,151.0 410.50,150.0 410.86,149.0 411.16,148.0 411.44,147.0 411.74,146.0 412.10,145.0 412.55,144.0 413.09,143.0 413.66,142.0 414.21,141.0 414.70,140.0 415.12,139.0 415.50,138.0 415.87,137.0 416.23,136.0 416.60,135.0 416.98,134.0 417.36,133.0 417.74,132.0 418.12,131.0 418.50,130.0 418.88,129.0 419.28,128.0 419.66,127.0 420.03,126.0 420.35,125.0 420.64,124.0 420.91,123.0 421.15,122.0 421.39,121.0 421.60,120.0 421.81,119.0 422.01,118.0 422.21,117.0 422.41,116.0 422.59,115.0 422.76,114.0 422.92,113.0 423.07,112.0 423.19,111.0 423.30,110.0 423.39,109.0 423.47,108.0 423.55,107.0 423.62,106.0 423.68,105.0 423.74,104.0 423.80,103.0 423.85,102.0 423.90,101.0 423.95,100.0 424.00,99.0 424.04,98.0 424.09,97.0 424.13,96.0 424.17,95.0 424.21,94.0 424.24,93.0 424.28,92.0 424.31,91.0 424.35,90.0 424.39,89.0 424.42,88.0 424.45,87.0 424.49,86.0 424.52,85.0 424.55,84.0 424.58,83.0 424.61,82.0 424.64,81.0 424.67,80.0 424.70,79.0Z" fill="#386cb0"/>
<path d="M508.40,56.2 508.47,57.2 508.54,58.2 508.60,59.2 508.66,60.2 508.72,61.2 508.77,62.2 508.83,63.2 508.88,64.2 508.93,65.2 508.98,66.2 509.03,67.2 509.09,68.2 509.15,69.2 509.21,70.2 509.28,71.2 509.36,72.2 509.44,73.2 509.52,74.2 509.61,75.2 509.70,76.2 509.80,77.2 509.90,78.2 510.01,79.2 510.12,80.2 510.25,81.2 510.40,82.2 510.56,83.2 510.72,84.2 510.88,85.2 511.03,86.2 511.18,87.2 511.34,88.2 511.48,89.2 511.63,90.2 511.80,91.2 511.95,92.2 511.99,93.2 511.77,94.2 511.50,95.2 511.26,96.2 511.01,97.2 510.76,98.2 510.54,99.2 510.35,100.2 510.17,101.2 510.00,102.2 509.84,103.2 509.71,104.2 509.61,105.2 509.55,106.2 509.49,107.2 509.45,108.2 509.41,109.2 509.37,110.2 509.34,111.2 509.30,112.2 509.27,113.2 509.23,114.2 509.19,115.2 509.16,116.2 509.13,117.2 509.11,118.2 509.10,119.2 509.11,120.2 509.13,121.2 509.17,122.2 509.23,123.2 509.29,124.2 509.37,125.2 509.49,126.2 509.68,127.2 509.91,128.2 510.18,129.2 510.46,130.2 510.79,131.2 511.20,132.2 511.65,133.2 512.16,134.2 512.71,135.2 513.36,136.2 514.10,137.2 514.91,138.2 515.76,139.2 516.62,140.2 517.54,141.2 518.51,142.2 519.51,143.2 520.51,144.2 521.50,145.2 522.48,146.2 523.48,147.2 524.46,148.2 525.40,149.2 526.31,150.2 527.21,151.2 528.09,152.2 528.94,153.2 529.76,154.2 530.56,155.2 531.36,156.2 532.17,157.2 532.92,158.2 533.58,159.2 534.09,160.2 534.52,161.2 534.89,162.2 535.22,163.2 535.50,164.2 535.75,165.2 535.94,166.2 536.10,167.2 536.25,168.2 536.42,169.2 536.65,170.2 536.95,171.2 537.32,172.2 537.74,173.2 538.21,174.2 538.70,175.2 539.31,176.2 540.01,177.2 540.74,178.2 541.43,179.2 542.01,180.2 542.53,181.2 543.02,182.2 543.47,183.2 543.85,184.2 544.16,185.2 544.44,186.2 544.70,187.2 544.92,188.2 545.06,189.2 545.10,190.2 545.03,191.2 544.88,192.2 544.66,193.2 544.41,194.2 544.14,195.2 543.79,196.2 543.32,197.2 542.77,198.2 542.14,199.2 541.46,200.2 540.59,201.2 539.54,202.2 538.40,203.2 537.26,204.2 536.20,205.2 535.21,206.2 534.24,207.2 533.27,208.2 532.26,209.2 531.17,210.2 529.96,211.2 528.66,212.2 527.34,213.2 526.10,214.2 524.99,215.2 523.97,216.2 523.00,217.2 522.09,218.2 521.27,219.2 520.57,220.2 519.92,221.2 519.32,222.2 518.78,223.2 518.33,224.2 517.99,225.2 517.72,226.2 517.49,227.2 517.29,228.2 517.12,229.2 516.97,230.2 516.85,231.2 516.75,232.2 516.65,233.2 516.55,234.2 516.42,235.2 516.28,236.2 516.14,237.2 515.98,238.2 515.81,239.2 515.64,240.2 515.46,241.2 515.27,242.2 515.07,243.2 514.87,244.2 514.66,245.2 514.43,246.2 514.17,247.2 513.91,248.2 513.63,249.2 513.34,250.2 513.05,251.2 512.76,252.2 512.48,253.2 512.20,254.2 511.95,255.2 511.69,256.2 511.43,257.2 511.16,258.2 510.90,259.2 510.64,260.2 510.40,261.2 510.18,262.2 509.98,263.2 509.81,264.2 509.68,265.2 509.56,266.2 509.46,267.2 509.36,268.2 509.28,269.2 509.20,270.2 509.12,271.2 509.05,272.2 508.98,273.2 508.91,274.2 508.84,275.2 508.77,276.2 508.72,277.2 508.67,278.2 508.61,279.2 508.55,280.2 508.47,281.2 508.38,282.2 508.21,283.2 508.10,283.8 506.70,283.8 506.59,283.2 506.42,282.2 506.33,281.2 506.25,280.2 506.19,279.2 506.13,278.2 506.08,277.2 506.03,276.2 505.96,275.2 505.89,274.2 505.82,273.2 505.75,272.2 505.68,271.2 505.60,270.2 505.52,269.2 505.44,268.2 505.34,267.2 505.24,266.2 505.12,265.2 504.99,264.2 504.82,263.2 504.62,262.2 504.40,261.2 504.16,260.2 503.90,259.2 503.64,258.2 503.37,257.2 503.11,256.2 502.85,255.2 502.60,254.2 502.32,253.2 502.04,252.2 501.75,251.2 501.46,250.2 501.17,249.2 500.89,248.2 500.63,247.2 500.37,246.2 500.14,245.2 499.93,244.2 499.73,243.2 499.53,242.2 499.34,241.2 499.16,240.2 498.99,239.2 498.82,238.2 498.66,237.2 498.52,236.2 498.38,235.2 498.25,234.2 498.15,233.2 498.05,232.2 497.95,231.2 497.83,230.2 497.68,229.2 497.51,228.2 497.31,227.2 497.08,226.2 496.81,225.2 496.47,224.2 496.02,223.2 495.48,222.2 494.88,221.2 494.23,220.2 493.53,219.2 492.71,218.2 491.80,217.2 490.83,216.2 489.81,215.2 488.70,214.2 487.46,213.2 486.14,212.2 484.84,211.2 483.63,210.2 482.54,209.2 481.53,208.2 480.56,207.2 479.59,206.2 478.60,205.2 477.54,204.2 476.40,203.2 475.26,202.2 474.21,201.2 473.34,200.2 472.66,199.2 472.03,198.2 471.48,197.2 471.01,196.2 470.66,195.2 470.39,194.2 470.14,193.2 469.92,192.2 469.77,191.2 469.70,190.2 469.74,189.2 469.88,188.2 470.10,187.2 470.36,186.2 470.64,185.2 470.95,184.2 471.33,183.2 471.78,182.2 472.27,181.2 472.79,180.2 473.37,179.2 474.06,178.2 474.79,177.2 475.49,176.2 476.10,175.2 476.59,174.2 477.06,173.2 477.48,172.2 477.85,171.2 478.15,170.2 478.38,169.2 478.55,168.2 478.70,167.2 478.86,166.2 479.05,165.2 479.30,164.2 479.58,163.2 479.91,162.2 480.28,161.2 480.71,160.2 481.22,159.2 481.88,158.2 482.63,157.2 483.44,156.2 484.24,155.2 485.04,154.2 485.86,153.2 486.71,152.2 487.59,151.2 488.49,150.2 489.40,149.2 490.34,148.2 491.32,147.2 492.32,146.2 493.30,145.2 494.29,144.2 495.29,143.2 496.29,142.2 497.26,141.2 498.18,140.2 499.04,139.2 499.89,138.2 500.70,137.2 501.44,136.2 502.09,135.2 502.64,134.2 503.15,133.2 503.60,132.2 504.01,131.2 504.34,130.2 504.62,129.2 504.89,128.2 505.12,127.2 505.31,126.2 505.43,125.2 505.51,124.2 505.57,123.2 505.63,122.2 505.67,121.2 505.69,120.2 505.70,119.2 505.69,118.2 505.67,117.2 505.64,116.2 505.61,115.2 505.57,114.2 505.53,113.2 505.50,112.2 505.46,111.2 505.43,110.2 505.39,109.2 505.35,108.2 505.31,107.2 505.25,106.2 505.19,105.2 505.09,104.2 504.96,103.2 504.80,102.2 504.63,101.2 504.45,100.2 504.26,99.2 504.04,98.2 503.79,97.2 503.54,96.2 503.30,95.2 503.03,94.2 502.81,93.2 502.85,92.2 503.00,91.2 503.17,90.2 503.32,89.2 503.46,88.2 503.62,87.2 503.77,86.2 503.92,85.2 504.08,84.2 504.24,83.2 504.40,82.2 504.55,81.2 504.68,80.2 504.79,79.2 504.90,78.2 505.00,77.2 505.10,76.2 505.19,75.2 505.28,74.2 505.36,73.2 505.44,72.2 505.52,71.2 505.59,70.2 505.65,69.2 505.71,68.2 505.77,67.2 505.82,66.2 505.87,65.2 505.92,64.2 505.97,63.2 506.03,62.2 506.08,61.2 506.14,60.2 506.20,59.2 506.26,58.2 506.33,57.2 506.40,56.2Z" fill="#f0027f"/>
<ellipse cx="99.4" cy="518.9" rx="4.5" ry="4.1" fill="#7fc97f"/>
<ellipse cx="181.0" cy="519.0" rx="4.4" ry="4.0" fill="#beaed4"/>
<ellipse cx="262.6" cy="515.2" rx="4.3" ry="4.0" fill="#fdc086"/>
<ellipse cx="344.2" cy="434.2" rx="4.5" ry="3.9" fill="#ffff99"/>
<ellipse cx="425.8" cy="533.7" rx="4.6" ry="3.9" fill="#386cb0"/>
<path d="M92.80,196.1 H106.00 M99.4,189.20 V203.00" stroke="#ff0000" stroke-width="1.8" stroke-linecap="round"/>
<path d="M174.40,185.7 H187.60 M181.0,178.80 V192.60" stroke="#ff0000" stroke-width="1.8" stroke-linecap="round"/>
<path d="M256.00,194.4 H269.20 M262.6,187.50 V201.30" stroke="#ff0000" stroke-width="1.8" stroke-linecap="round"/>
<path d="M337.60,198.3 H350.80 M344.2,191.40 V205.20" stroke="#ff0000" stroke-width="1.8" stroke-linecap="round"/>
<path d="M419.20,209.1 H432.40 M425.8,202.20 V216.00" stroke="#ff0000" stroke-width="1.8" stroke-linecap="round"/>
<path d="M500.80,184.45 H514.00 M507.4,177.55 V191.35" stroke="#ff0000" stroke-width="1.8" stroke-linecap="round"/>
<line x1="44.9" x2="50.8" y1="552.00" y2="552.00" stroke="#333" stroke-width="2"/>
<text x="40.5" y="558.30" text-anchor="end" class="t" style="font-size:17.4px">5</text>
<line x1="44.9" x2="50.8" y1="430.38" y2="430.38" stroke="#333" stroke-width="2"/>
<text x="40.5" y="436.68" text-anchor="end" class="t" style="font-size:17.4px">6</text>
<line x1="44.9" x2="50.8" y1="308.75" y2="308.75" stroke="#333" stroke-width="2"/>
<text x="40.5" y="315.05" text-anchor="end" class="t" style="font-size:17.4px">7</text>
<line x1="44.9" x2="50.8" y1="187.12" y2="187.12" stroke="#333" stroke-width="2"/>
<text x="40.5" y="193.43" text-anchor="end" class="t" style="font-size:17.4px">8</text>
<line x1="44.9" x2="50.8" y1="65.50" y2="65.50" stroke="#333" stroke-width="2"/>
<text x="40.5" y="71.80" text-anchor="end" class="t" style="font-size:17.4px">9</text>
<line x1="99.4" x2="99.4" y1="621.85" y2="627.6" stroke="#333" stroke-width="2"/>
<text x="101.00" y="644.7" text-anchor="middle" class="t a">Actual</text>
<line x1="181.0" x2="181.0" y1="621.85" y2="627.6" stroke="#333" stroke-width="2"/>
<text x="182.30" y="644.7" text-anchor="middle" class="t m">M 1</text>
<line x1="262.6" x2="262.6" y1="621.85" y2="627.6" stroke="#333" stroke-width="2"/>
<text x="263.90" y="644.7" text-anchor="middle" class="t m">M 2</text>
<line x1="344.2" x2="344.2" y1="621.85" y2="627.6" stroke="#333" stroke-width="2"/>
<text x="345.50" y="644.7" text-anchor="middle" class="t m">M 3</text>
<line x1="425.8" x2="425.8" y1="621.85" y2="627.6" stroke="#333" stroke-width="2"/>
<text x="427.10" y="644.7" text-anchor="middle" class="t m">M 4</text>
<line x1="507.4" x2="507.4" y1="621.85" y2="627.6" stroke="#333" stroke-width="2"/>
<text x="508.70" y="644.7" text-anchor="middle" class="t m">M 5</text>
<text transform="translate(13.0,320.9) rotate(-90)" text-anchor="middle" class="yt" textLength="139.6" lengthAdjust="spacingAndGlyphs">DO CONCENTRATION</text>
<rect x="589" y="232.50" width="33" height="176.00" fill="#8a8a8a"/>
<rect x="590" y="223.50" width="31" height="31.3" fill="#7fc97f" stroke="#333" stroke-width="2"/>
<text x="634" y="245.50" class="t a">Actual</text>
<rect x="590" y="258.70" width="31" height="31.3" fill="#beaed4" stroke="#333" stroke-width="2"/>
<text x="633.2" y="280.70" class="t m">M 1</text>
<rect x="590" y="293.90" width="31" height="31.3" fill="#fdc086" stroke="#333" stroke-width="2"/>
<text x="633.2" y="315.90" class="t m">M 2</text>
<rect x="590" y="329.10" width="31" height="31.3" fill="#ffff99" stroke="#333" stroke-width="2"/>
<text x="633.2" y="351.10" class="t m">M 3</text>
<rect x="590" y="364.30" width="31" height="31.3" fill="#386cb0" stroke="#333" stroke-width="2"/>
<text x="633.2" y="386.30" class="t m">M 4</text>
<rect x="590" y="399.50" width="31" height="31.3" fill="#f0027f" stroke="#333" stroke-width="2"/>
<text x="633.2" y="421.50" class="t m">M 5</text>
</svg>
</body></html>
